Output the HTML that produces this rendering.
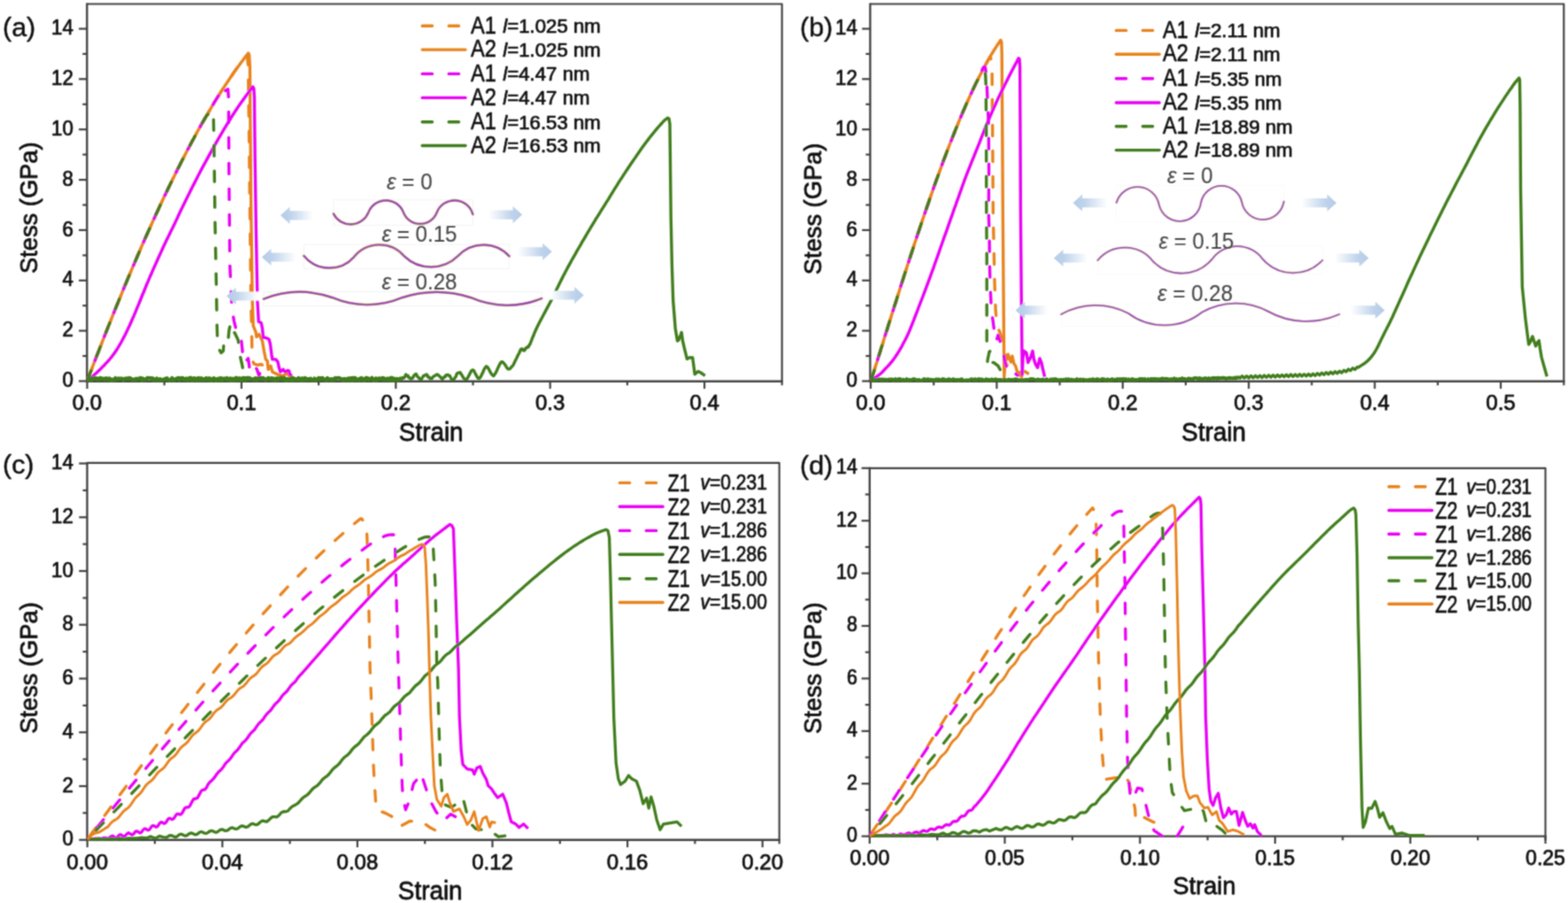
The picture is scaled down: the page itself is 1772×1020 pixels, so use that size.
<!DOCTYPE html>
<html lang="en">
<head>
<meta charset="utf-8">
<title>Stress-strain curves</title>
<style>
html,body{margin:0;padding:0;background:#fff;}
body{width:1772px;height:1020px;overflow:hidden;font-family:"Liberation Sans",Arial,Helvetica,sans-serif;}
svg{display:block;}
</style>
</head>
<body>
<svg width="1772" height="1020" viewBox="0 0 1772 1020" font-family="'Liberation Sans', Arial, Helvetica, sans-serif">
<defs>
<linearGradient id="gl" x1="0" y1="0" x2="1" y2="0"><stop offset="0" stop-color="#b3cbe8"/><stop offset="0.3" stop-color="#bfd3eb"/><stop offset="0.95" stop-color="#ffffff"/></linearGradient>
<linearGradient id="gr" x1="0" y1="0" x2="1" y2="0"><stop offset="0.05" stop-color="#ffffff"/><stop offset="0.7" stop-color="#bfd3eb"/><stop offset="1" stop-color="#b3cbe8"/></linearGradient>
<filter id="soft" x="-2%" y="-2%" width="104%" height="104%"><feConvolveMatrix order="3" kernelMatrix="0.0441 0.1218 0.0441 0.1218 0.3364 0.1218 0.0441 0.1218 0.0441" edgeMode="duplicate"/></filter>
</defs>
<rect width="1772" height="1020" fill="#ffffff"/>
<g filter="url(#soft)">
<g class="panel">
<clipPath id="clipa"><rect x="98.3" y="2.5" width="785.4000000000001" height="430.7"/></clipPath>
<path d="M98.3 4.5H883.7V435.3" fill="none" stroke="#424242" stroke-width="2.15" stroke-linejoin="round"/>
<path d="M98.3 3.5V430.7H884.7" fill="none" stroke="#424242" stroke-width="2.35"/>
<line x1="89.1" y1="430.5" x2="98.3" y2="430.5" stroke="#424242" stroke-width="2.2"/>
<text transform="translate(82.9 437.1) scale(0.93 1)" font-size="24.0" text-anchor="end" fill="#0c0c0c" stroke="#0c0c0c" stroke-width="0.75" stroke-linejoin="round">0</text>
<line x1="93.3" y1="402.1" x2="98.3" y2="402.1" stroke="#424242" stroke-width="2.2"/>
<line x1="89.1" y1="373.6" x2="98.3" y2="373.6" stroke="#424242" stroke-width="2.2"/>
<text transform="translate(82.9 380.2) scale(0.93 1)" font-size="24.0" text-anchor="end" fill="#0c0c0c" stroke="#0c0c0c" stroke-width="0.75" stroke-linejoin="round">2</text>
<line x1="93.3" y1="345.2" x2="98.3" y2="345.2" stroke="#424242" stroke-width="2.2"/>
<line x1="89.1" y1="316.8" x2="98.3" y2="316.8" stroke="#424242" stroke-width="2.2"/>
<text transform="translate(82.9 323.4) scale(0.93 1)" font-size="24.0" text-anchor="end" fill="#0c0c0c" stroke="#0c0c0c" stroke-width="0.75" stroke-linejoin="round">4</text>
<line x1="93.3" y1="288.4" x2="98.3" y2="288.4" stroke="#424242" stroke-width="2.2"/>
<line x1="89.1" y1="259.9" x2="98.3" y2="259.9" stroke="#424242" stroke-width="2.2"/>
<text transform="translate(82.9 266.5) scale(0.93 1)" font-size="24.0" text-anchor="end" fill="#0c0c0c" stroke="#0c0c0c" stroke-width="0.75" stroke-linejoin="round">6</text>
<line x1="93.3" y1="231.5" x2="98.3" y2="231.5" stroke="#424242" stroke-width="2.2"/>
<line x1="89.1" y1="203.1" x2="98.3" y2="203.1" stroke="#424242" stroke-width="2.2"/>
<text transform="translate(82.9 209.7) scale(0.93 1)" font-size="24.0" text-anchor="end" fill="#0c0c0c" stroke="#0c0c0c" stroke-width="0.75" stroke-linejoin="round">8</text>
<line x1="93.3" y1="174.6" x2="98.3" y2="174.6" stroke="#424242" stroke-width="2.2"/>
<line x1="89.1" y1="146.2" x2="98.3" y2="146.2" stroke="#424242" stroke-width="2.2"/>
<text transform="translate(82.9 152.8) scale(0.93 1)" font-size="24.0" text-anchor="end" fill="#0c0c0c" stroke="#0c0c0c" stroke-width="0.75" stroke-linejoin="round">10</text>
<line x1="93.3" y1="117.8" x2="98.3" y2="117.8" stroke="#424242" stroke-width="2.2"/>
<line x1="89.1" y1="89.3" x2="98.3" y2="89.3" stroke="#424242" stroke-width="2.2"/>
<text transform="translate(82.9 95.9) scale(0.93 1)" font-size="24.0" text-anchor="end" fill="#0c0c0c" stroke="#0c0c0c" stroke-width="0.75" stroke-linejoin="round">12</text>
<line x1="93.3" y1="60.9" x2="98.3" y2="60.9" stroke="#424242" stroke-width="2.2"/>
<line x1="89.1" y1="32.5" x2="98.3" y2="32.5" stroke="#424242" stroke-width="2.2"/>
<text transform="translate(82.9 39.1) scale(0.93 1)" font-size="24.0" text-anchor="end" fill="#0c0c0c" stroke="#0c0c0c" stroke-width="0.75" stroke-linejoin="round">14</text>
<line x1="98.5" y1="430.7" x2="98.5" y2="439.09999999999997" stroke="#424242" stroke-width="2.2"/>
<text transform="translate(98.5 463.0) scale(1.0 1)" font-size="24.0" text-anchor="middle" fill="#0c0c0c" stroke="#0c0c0c" stroke-width="0.75" stroke-linejoin="round">0.0</text>
<line x1="185.7" y1="430.7" x2="185.7" y2="435.3" stroke="#424242" stroke-width="2.2"/>
<line x1="272.9" y1="430.7" x2="272.9" y2="439.09999999999997" stroke="#424242" stroke-width="2.2"/>
<text transform="translate(272.9 463.0) scale(1.0 1)" font-size="24.0" text-anchor="middle" fill="#0c0c0c" stroke="#0c0c0c" stroke-width="0.75" stroke-linejoin="round">0.1</text>
<line x1="360.1" y1="430.7" x2="360.1" y2="435.3" stroke="#424242" stroke-width="2.2"/>
<line x1="447.3" y1="430.7" x2="447.3" y2="439.09999999999997" stroke="#424242" stroke-width="2.2"/>
<text transform="translate(447.3 463.0) scale(1.0 1)" font-size="24.0" text-anchor="middle" fill="#0c0c0c" stroke="#0c0c0c" stroke-width="0.75" stroke-linejoin="round">0.2</text>
<line x1="534.5" y1="430.7" x2="534.5" y2="435.3" stroke="#424242" stroke-width="2.2"/>
<line x1="621.7" y1="430.7" x2="621.7" y2="439.09999999999997" stroke="#424242" stroke-width="2.2"/>
<text transform="translate(621.7 463.0) scale(1.0 1)" font-size="24.0" text-anchor="middle" fill="#0c0c0c" stroke="#0c0c0c" stroke-width="0.75" stroke-linejoin="round">0.3</text>
<line x1="708.9" y1="430.7" x2="708.9" y2="435.3" stroke="#424242" stroke-width="2.2"/>
<line x1="796.1" y1="430.7" x2="796.1" y2="439.09999999999997" stroke="#424242" stroke-width="2.2"/>
<text transform="translate(796.1 463.0) scale(1.0 1)" font-size="24.0" text-anchor="middle" fill="#0c0c0c" stroke="#0c0c0c" stroke-width="0.75" stroke-linejoin="round">0.4</text>
<text transform="translate(487.2 497.5) scale(0.96 1)" font-size="29.0" text-anchor="middle" fill="#0c0c0c" stroke="#0c0c0c" stroke-width="0.75" stroke-linejoin="round">Strain</text>
<text transform="translate(42.0 234.7) rotate(-90) scale(1.01 1)" font-size="27.0" text-anchor="middle" fill="#0c0c0c" stroke="#0c0c0c" stroke-width="0.75" stroke-linejoin="round">Stess (GPa)</text>
<text transform="translate(3.0 41.0) scale(1.05 1)" font-size="29.0" text-anchor="start" fill="#0c0c0c" stroke="#0c0c0c" stroke-width="0.4" stroke-linejoin="round">(a)</text>
<g clip-path="url(#clipa)">
<path d="M98.6 430.0L100.6 424.6L102.7 419.3L104.7 414.0L106.8 408.7L108.8 403.4L110.9 398.1L112.9 392.9L115.0 387.6L117.0 382.4L119.0 377.3L121.1 372.1L123.1 367.0L125.2 361.9L127.2 356.8L129.3 351.7L131.3 346.7L133.4 341.6L135.4 336.6L137.5 331.7L139.5 326.7L141.5 321.8L143.6 316.9L145.6 312.0L147.7 307.2L149.7 302.3L151.8 297.6L153.8 292.8L155.9 288.0L157.9 283.3L159.9 278.6L162.0 274.0L164.0 269.3L166.1 264.7L168.1 260.2L170.2 255.6L172.2 251.1L174.3 246.6L176.3 242.1L178.4 237.7L180.4 233.3L182.4 228.9L184.5 224.6L186.5 220.3L188.6 216.0L190.6 211.7L192.7 207.5L194.7 203.3L196.8 199.2L198.8 195.1L200.8 191.0L202.9 186.9L204.9 182.9L207.0 178.9L209.0 175.0L211.1 171.0L213.1 167.2L215.2 163.3L217.2 159.5L219.3 155.7L221.3 152.0L223.3 148.3L225.4 144.6L227.4 140.9L229.5 137.3L231.5 133.8L233.6 130.3L235.6 126.8L237.7 123.3L239.7 119.9L241.7 116.5L243.8 113.2L245.8 109.9L247.9 106.6L249.9 103.4L252.0 100.3L254.0 97.1L256.1 94.0L258.1 91.0L260.2 87.9L262.2 85.0L264.2 82.0L266.3 79.1L268.3 76.3L270.4 73.5L272.4 70.7L274.5 68.0L276.5 65.3L278.6 62.7L279.5 62.5L280.5 75.0L281.5 150.0L282.6 250.0L283.6 340.0L284.3 366.0L284.8 395.0L285.6 408.0L287.0 411.0L291.0 412.3L295.0 411.5L298.0 413.0L300.0 418.0L302.0 424.0" fill="none" stroke="#e8821c" stroke-width="3.4" stroke-linejoin="round" stroke-dasharray="12 17" stroke-linecap="round" stroke-dashoffset="-4"/>
<path d="M98.6 430.0L100.6 424.6L102.7 419.3L104.7 414.0L106.8 408.7L108.8 403.4L110.9 398.1L112.9 392.9L115.0 387.6L117.0 382.4L119.0 377.3L121.1 372.1L123.1 367.0L125.2 361.9L127.2 356.8L129.3 351.7L131.3 346.7L133.4 341.6L135.4 336.6L137.5 331.7L139.5 326.7L141.5 321.8L143.6 316.9L145.6 312.0L147.7 307.2L149.7 302.3L151.8 297.6L153.8 292.8L155.9 288.0L157.9 283.3L159.9 278.6L162.0 274.0L164.0 269.3L166.1 264.7L168.1 260.2L170.2 255.6L172.2 251.1L174.3 246.6L176.3 242.1L178.4 237.7L180.4 233.3L182.4 228.9L184.5 224.6L186.5 220.3L188.6 216.0L190.6 211.7L192.7 207.5L194.7 203.3L196.8 199.2L198.8 195.1L200.8 191.0L202.9 186.9L204.9 182.9L207.0 178.9L209.0 175.0L211.1 171.0L213.1 167.2L215.2 163.3L217.2 159.5L219.3 155.7L221.3 152.0L223.3 148.3L225.4 144.6L227.4 140.9L229.5 137.3L231.5 133.8L233.6 130.3L235.6 126.8L237.7 123.3L239.7 119.9L241.7 116.5L243.8 113.2L245.8 109.9L247.9 106.6L249.9 103.4L252.0 100.3L254.0 97.1L256.1 94.0L258.1 91.0L260.2 87.9L262.2 85.0L264.2 82.0L266.3 79.1L268.3 76.3L270.4 73.5L272.4 70.7L274.5 68.0L276.5 65.3L278.6 62.7L280.6 60.1L281.6 62.0L282.4 75.0L283.0 150.0L283.8 240.0L285.2 340.0L286.2 368.2L289.0 374.8L289.9 380.5L292.8 377.6L296.5 385.2L298.4 396.5L300.3 405.9L302.2 407.8L303.1 417.2L305.9 413.4L307.8 420.0L311.6 421.9L315.0 423.5L320.0 424.7L324.0 421.5L327.0 424.5L330.4 423.3" fill="none" stroke="#e8821c" stroke-width="3.4" stroke-linejoin="round" stroke-linecap="butt"/>
<path d="M98.6 430.0L100.6 424.6L102.7 419.3L104.7 414.0L106.8 408.7L108.8 403.4L110.9 398.1L112.9 392.9L115.0 387.6L117.0 382.4L119.0 377.3L121.1 372.1L123.1 367.0L125.2 361.9L127.2 356.8L129.3 351.7L131.3 346.7L133.4 341.6L135.4 336.6L137.5 331.7L139.5 326.7L141.5 321.8L143.6 316.9L145.6 312.0L147.7 307.2L149.7 302.3L151.8 297.6L153.8 292.8L155.9 288.0L157.9 283.3L159.9 278.6L162.0 274.0L164.0 269.3L166.1 264.7L168.1 260.2L170.2 255.6L172.2 251.1L174.3 246.6L176.3 242.1L178.4 237.7L180.4 233.3L182.4 228.9L184.5 224.6L186.5 220.3L188.6 216.0L190.6 211.7L192.7 207.5L194.7 203.3L196.8 199.2L198.8 195.1L200.8 191.0L202.9 186.9L204.9 182.9L207.0 178.9L209.0 175.0L211.1 171.0L213.1 167.2L215.2 163.3L217.2 159.5L219.3 155.7L221.3 152.0L223.3 148.3L225.4 144.6L227.4 140.9L229.5 137.3L231.5 133.8L233.6 130.3L235.6 126.8L237.7 123.3L239.7 119.9L241.7 116.5L243.8 113.2L245.8 109.9L247.9 106.6L249.9 103.4L250.4 107.9L251.1 107.0L251.8 105.9L252.5 104.8L253.3 103.8L254.0 103.0L254.7 102.4L255.4 101.9L256.1 101.6L256.7 101.2L257.2 101.0L257.6 100.8L258.3 110.0L258.8 200.0L259.8 300.0L262.2 349.4L264.5 362.6L267.0 373.0L272.5 382.4L273.9 395.5L275.2 409.0L277.0 409.3L280.5 404.9L281.5 412.0L282.4 420.0L284.5 416.5L286.2 414.4L289.0 414.4L291.0 419.0L292.8 424.7L294.5 418.0L296.0 414.5" fill="none" stroke="#e905f5" stroke-width="3.4" stroke-linejoin="round" stroke-dasharray="12 17" stroke-linecap="round" stroke-dashoffset="5"/>
<path d="M98.6 430.0L99.8 429.0L101.0 428.0L102.3 427.0L103.6 425.9L105.0 424.7L106.4 423.5L107.8 422.3L109.2 421.1L110.5 419.8L111.8 418.6L113.1 417.3L114.3 416.1L115.5 414.8L116.8 413.6L118.0 412.3L119.2 410.9L120.5 409.6L121.7 408.3L123.0 406.9L124.2 405.5L125.4 404.0L126.7 402.4L127.9 400.8L129.2 399.1L130.4 397.3L131.6 395.5L132.9 393.5L134.1 391.5L135.3 389.4L136.6 387.3L137.8 385.0L139.0 382.7L140.2 380.4L141.5 378.0L142.7 375.5L143.9 373.0L145.1 370.4L146.4 367.7L147.6 365.0L148.8 362.3L150.0 359.5L151.3 356.7L152.5 353.8L153.7 350.9L154.9 347.9L156.2 344.9L157.4 342.0L158.6 339.0L159.8 336.0L161.0 333.0L162.3 330.0L163.5 327.0L164.7 324.0L165.9 321.0L167.2 318.1L168.4 315.2L169.6 312.3L170.9 309.5L172.1 306.7L173.3 303.9L174.5 301.2L175.8 298.4L177.0 295.7L178.2 293.0L179.4 290.3L180.7 287.6L181.9 284.9L183.1 282.2L184.3 279.5L185.6 276.8L186.8 274.2L188.1 271.6L189.3 269.0L190.6 266.4L191.8 263.9L193.0 261.5L194.2 259.1L195.3 256.9L196.3 254.8L197.3 252.9L198.1 251.1L198.9 249.4L199.6 247.9L200.4 246.3L201.1 244.6L202.0 242.7L203.0 240.6L204.1 238.2L205.4 235.5L206.9 232.4L208.5 229.2L210.2 225.7L211.9 222.2L213.7 218.7L215.3 215.4L216.9 212.3L218.4 209.3L219.8 206.6L221.1 204.0L222.4 201.5L223.6 199.0L225.0 196.5L226.4 193.8L227.9 190.9L229.5 187.9L231.3 184.7L233.1 181.3L235.0 177.9L236.9 174.4L238.9 170.8L240.8 167.4L242.7 164.0L244.6 160.7L246.4 157.5L248.2 154.4L250.0 151.4L251.7 148.5L253.3 145.7L254.9 143.1L256.4 140.6L257.8 138.3L259.2 136.1L260.5 134.0L261.7 132.0L263.0 130.0L264.2 128.2L265.4 126.3L266.6 124.5L267.8 122.7L269.0 120.9L270.2 119.1L271.4 117.4L272.7 115.6L273.9 113.9L275.1 112.2L276.4 110.4L277.6 108.7L278.9 107.0L280.1 105.4L281.3 103.8L282.4 102.2L283.5 100.8L284.6 99.4L285.6 98.0L286.8 99.5L287.5 110.0L288.2 180.0L289.4 260.0L290.9 340.0L292.3 363.5L295.1 364.5L296.5 371.0L297.5 381.4L300.3 381.4L304.0 383.3L305.5 389.0L306.9 400.2L307.8 405.9L311.6 405.9L313.9 408.7L315.4 415.3L316.8 420.0L318.5 418.5L320.0 417.2L321.5 419.5L322.9 420.0L324.7 418.5L326.6 419.0L327.6 422.8L329.5 424.5" fill="none" stroke="#e905f5" stroke-width="3.4" stroke-linejoin="round" stroke-linecap="butt"/>
<path d="M98.6 430.0L100.6 424.6L102.7 419.3L104.7 414.0L106.8 408.7L108.8 403.4L110.9 398.1L112.9 392.9L115.0 387.6L117.0 382.4L119.0 377.3L121.1 372.1L123.1 367.0L125.2 361.9L127.2 356.8L129.3 351.7L131.3 346.7L133.4 341.6L135.4 336.6L137.5 331.7L139.5 326.7L141.5 321.8L143.6 316.9L145.6 312.0L147.7 307.2L149.7 302.3L151.8 297.6L153.8 292.8L155.9 288.0L157.9 283.3L159.9 278.6L162.0 274.0L164.0 269.3L166.1 264.7L168.1 260.2L170.2 255.6L172.2 251.1L174.3 246.6L176.3 242.1L178.4 237.7L180.4 233.3L182.4 228.9L184.5 224.6L186.5 220.3L188.6 216.0L190.6 211.7L192.7 207.5L194.7 203.3L196.8 199.2L198.8 195.1L200.8 191.0L202.9 186.9L204.9 182.9L207.0 178.9L209.0 175.0L211.1 171.0L213.1 167.2L215.2 163.3L217.2 159.5L219.3 155.7L221.3 152.0L223.3 148.3L225.4 144.6L227.4 140.9L229.5 137.3L231.5 133.8L233.6 130.3L234.4 129.9L235.0 129.1L235.7 128.1L236.4 127.2L237.0 126.5L237.6 125.9L238.2 125.4L238.7 124.9L239.2 124.8L239.7 125.0L240.1 125.8L240.5 127.1L240.8 128.7L241.0 130.1L241.2 131.0L241.8 160.0L243.0 250.0L244.6 330.0L245.2 367.0L245.7 382.4L247.6 394.6L250.0 398.5L252.3 396.5L253.2 384.2L255.1 380.5L257.9 383.3L258.9 372.9L260.8 364.5L262.6 372.0L265.5 376.5L269.2 384.2L271.1 401.2L273.5 411.5L274.9 419.0L279.6 423.8L283.0 427.0" fill="none" stroke="#3f7d1a" stroke-width="3.4" stroke-linejoin="round" stroke-dasharray="12 17" stroke-linecap="round"/>
<path d="M99.0 428.4L99.9 428.8L100.8 427.6L101.7 428.2L102.6 429.4L103.5 429.4L104.4 427.1L105.3 427.3L106.2 426.9L107.1 428.0L108.0 426.8L108.9 428.1L109.8 428.6L110.7 427.5L111.6 428.7L112.5 428.5L113.4 426.8L114.3 428.4L115.2 427.5L116.1 427.9L117.0 427.6L117.9 428.8L118.8 428.0L119.7 427.2L120.6 428.3L121.5 429.0L122.4 427.6L123.3 427.4L124.2 427.9L125.1 429.5L126.0 429.6L126.9 428.7L127.8 429.4L128.7 429.2L129.6 427.8L130.5 427.0L131.4 428.7L132.3 428.4L133.2 427.8L134.1 427.4L135.0 427.9L135.9 428.1L136.8 427.5L137.7 427.6L138.6 428.1L139.5 429.3L140.4 428.5L141.3 427.6L142.2 427.5L143.1 428.1L144.0 427.3L144.9 427.3L145.8 428.2L146.7 427.0L147.6 428.2L148.5 427.8L149.4 428.8L150.3 428.9L151.2 428.8L152.1 428.8L153.0 427.8L153.9 428.7L154.8 427.7L155.7 428.4L156.6 427.7L157.5 428.0L158.4 426.9L159.3 427.4L160.2 429.6L161.1 427.4L162.0 428.8L162.9 428.7L163.8 428.9L164.7 428.1L165.6 428.5L166.5 426.9L167.4 426.9L168.3 427.3L169.2 427.2L170.1 427.0L171.0 427.1L171.9 428.4L172.8 427.3L173.7 429.6L174.6 428.7L175.5 428.3L176.4 428.8L177.3 427.5L178.2 429.5L179.1 429.2L180.0 428.9L180.9 428.1L181.8 429.2L182.7 428.9L183.6 428.7L184.5 429.4L185.4 428.6L186.3 427.8L187.2 428.4L188.1 427.3L189.0 427.3L189.9 428.9L190.8 429.1L191.7 429.6L192.6 429.3L193.5 428.3L194.4 427.0L195.3 428.2L196.2 429.5L197.1 429.1L198.0 428.2L198.9 428.1L199.8 427.4L200.7 427.2L201.6 426.9L202.5 429.4L203.4 428.6L204.3 427.1L205.2 427.9L206.1 426.8L207.0 427.3L207.9 428.9L208.8 428.7L209.7 428.1L210.6 427.5L211.5 428.7L212.4 429.6L213.3 428.0L214.2 426.9L215.1 426.9L216.0 426.9L216.9 429.6L217.8 428.3L218.7 429.2L219.6 427.2L220.5 427.5L221.4 428.8L222.3 429.4L223.2 427.7L224.1 426.9L225.0 429.3L225.9 427.6L226.8 428.9L227.7 427.2L228.6 428.8L229.5 429.2L230.4 428.9L231.3 427.8L232.2 428.9L233.1 427.1L234.0 427.6L234.9 428.0L235.8 429.3L236.7 427.2L237.6 429.3L238.5 429.1L239.4 429.6L240.3 427.8L241.2 427.3L242.1 427.4L243.0 429.2L243.9 429.6L244.8 428.8L245.7 428.1L246.6 427.6L247.5 429.2L248.4 429.3L249.3 427.0L250.2 427.3L251.1 429.2L252.0 429.2L252.9 427.6L253.8 427.5L254.7 428.0L255.6 428.3L256.5 427.0L257.4 429.2L258.3 428.3L259.2 429.0L260.1 427.4L261.0 429.6L261.9 429.0L262.8 427.7L263.7 429.5L264.6 428.8L265.5 429.2L266.4 426.8L267.3 426.9L268.2 428.9L269.1 427.6L270.0 428.3L270.9 427.2L271.8 429.6L272.7 428.2L273.6 429.2L274.5 426.9L275.4 428.1L276.3 426.9L277.2 429.4L278.1 428.0L279.0 426.9L279.9 426.9L280.8 428.3L281.7 426.9L282.6 427.3L283.5 428.0L284.4 428.2L285.3 428.4L286.2 428.6L287.1 427.8L288.0 428.6L288.9 427.2L289.8 427.5L290.7 429.1L291.6 427.2L292.5 427.4L293.4 427.4L294.3 428.1L295.2 426.7L296.1 426.8L297.0 428.1L297.9 427.2L298.8 428.7L299.7 429.1L300.6 428.4L301.5 428.8L302.4 427.9L303.3 426.8L304.2 428.0L305.1 427.8L306.0 428.5L306.9 427.1L307.8 427.4L308.7 429.1L309.6 427.5L310.5 427.9L311.4 429.5L312.3 427.5L313.2 427.1L314.1 428.8L315.0 428.4L315.9 428.5L316.8 426.8L317.7 428.0L318.6 426.7L319.5 427.4L320.4 428.8L321.3 426.9L322.2 427.6L323.1 429.7L324.0 429.6L324.9 428.1L325.8 428.9L326.7 428.6L327.6 428.1L328.5 429.3L329.4 427.2L330.3 429.2L331.2 426.8L332.1 429.3L333.0 428.7L333.9 428.0L334.8 428.7L335.7 428.1L336.6 429.0L337.5 427.0L338.4 428.2L339.3 429.3L340.2 429.5L341.1 427.4L342.0 427.5L342.9 429.4L343.8 427.7L344.7 426.9L345.6 428.8L346.5 427.9L347.4 428.9L348.3 428.1L349.2 428.2L350.1 428.0L351.0 427.6L351.9 429.4L352.8 428.7L353.7 429.1L354.6 429.4L355.5 427.5L356.4 429.5L357.3 429.3L358.2 428.2L359.1 428.4L360.0 427.0L360.9 429.0L361.8 427.2L362.7 428.3L363.6 427.1L364.5 426.9L365.4 428.5L366.3 428.2L367.2 428.7L368.1 429.1L369.0 429.6L369.9 427.0L370.8 428.6L371.7 428.4L372.6 428.7L373.5 428.3L374.4 428.4L375.3 429.3L376.2 428.1L377.1 428.3L378.0 428.8L378.9 427.0L379.8 428.0L380.7 427.0L381.6 427.1L382.5 426.7L383.4 427.3L384.3 427.3L385.2 428.2L386.1 428.4L387.0 429.2L387.9 428.2L388.8 429.4L389.7 427.9L390.6 428.9L391.5 428.4L392.4 428.6L393.3 427.5L394.2 429.5L395.1 429.0L396.0 427.1L396.9 428.3L397.8 429.7L398.7 426.8L399.6 427.6L400.5 428.9L401.4 426.8L402.3 428.9L403.2 428.4L404.1 428.9L405.0 428.4L405.9 429.5L406.8 427.7L407.7 428.4L408.6 426.9L409.5 428.4L410.4 428.0L411.3 429.6L412.2 429.5L413.1 427.1L414.0 426.8L414.9 427.1L415.8 427.3L416.7 428.9L417.6 428.3L418.5 428.3L419.4 428.1L420.3 426.7L421.2 427.9L422.1 429.7L423.0 429.2L423.9 428.4L424.8 427.3L425.7 429.5L426.6 428.0L427.5 428.6L428.4 427.3L429.3 427.7L430.2 427.7L431.1 427.9L432.0 426.8L432.9 428.7L433.8 427.2L434.7 428.5L435.6 428.6L436.5 428.8L437.4 427.6L438.3 427.6L439.2 429.0L440.1 427.9L441.0 427.2L441.9 429.4L442.8 426.7L443.7 429.4L444.6 427.6L445.5 427.8L446.4 429.6L447.3 428.0L448.2 428.8L449.1 427.9L450.0 429.4L450.9 428.9L451.8 428.1" fill="none" stroke="#3f7d1a" stroke-width="4.1" stroke-linejoin="round" stroke-linecap="butt"/>
<path d="M98.8 429.5L99.9 428.8L100.8 427.6L101.7 428.2L102.6 429.4L103.5 429.4L104.4 427.1L105.3 427.3L106.2 426.9L107.1 428.0L108.0 426.8L108.9 428.1L109.8 428.6L110.7 427.5L111.6 428.7L112.5 428.5L113.4 426.8L114.3 428.4L115.2 427.5L116.1 427.9L117.0 427.6L117.9 428.8L118.8 428.0L119.7 427.2L120.6 428.3L121.5 429.0L122.4 427.6L123.3 427.4L124.2 427.9L125.1 429.5L126.0 429.6L126.9 428.7L127.8 429.4L128.7 429.2L129.6 427.8L130.5 427.0L131.4 428.7L132.3 428.4L133.2 427.8L134.1 427.4L135.0 427.9L135.9 428.1L136.8 427.5L137.7 427.6L138.6 428.1L139.5 429.3L140.4 428.5L141.3 427.6L142.2 427.5L143.1 428.1L144.0 427.3L144.9 427.3L145.8 428.2L146.7 427.0L147.6 428.2L148.5 427.8L149.4 428.8L150.3 428.9L151.2 428.8L152.1 428.8L153.0 427.8L153.9 428.7L154.8 427.7L155.7 428.4L156.6 427.7L157.5 428.0L158.4 426.9L159.3 427.4L160.2 429.6L161.1 427.4L162.0 428.8L162.9 428.7L163.8 428.9L164.7 428.1L165.6 428.5L166.5 426.9L167.4 426.9L168.3 427.3L169.2 427.2L170.1 427.0L171.0 427.1L171.9 428.4L172.8 427.3L173.7 429.6L174.6 428.7L175.5 428.3L176.4 428.8L177.3 427.5L178.2 429.5L179.1 429.2L180.0 428.9L180.9 428.1L181.8 429.2L182.7 428.9L183.6 428.7L184.5 429.4L185.4 428.6L186.3 427.8L187.2 428.4L188.1 427.3L189.0 427.3L189.9 428.9L190.8 429.1L191.7 429.6L192.6 429.3L193.5 428.3L194.4 427.0L195.3 428.2L196.2 429.5L197.1 429.1L198.0 428.2L198.9 428.1L199.8 427.4L200.7 427.2L201.6 426.9L202.5 429.4L203.4 428.6L204.3 427.1L205.2 427.9L206.1 426.8L207.0 427.3L207.9 428.9L208.8 428.7L209.7 428.1L210.6 427.5L211.5 428.7L212.4 429.6L213.3 428.0L214.2 426.9L215.1 426.9L216.0 426.9L216.9 429.6L217.8 428.3L218.7 429.2L219.6 427.2L220.5 427.5L221.4 428.8L222.3 429.4L223.2 427.7L224.1 426.9L225.0 429.3L225.9 427.6L226.8 428.9L227.7 427.2L228.6 428.8L229.5 429.2L230.4 428.9L231.3 427.8L232.2 428.9L233.1 427.1L234.0 427.6L234.9 428.0L235.8 429.3L236.7 427.2L237.6 429.3L238.5 429.1L239.4 429.6L240.3 427.8L241.2 427.3L242.1 427.4L243.0 429.2L243.9 429.6L244.8 428.8L245.7 428.1L246.6 427.6L247.5 429.2L248.4 429.3L249.3 427.0L250.2 427.3L251.1 429.2L252.0 429.2L252.9 427.6L253.8 427.5L254.7 428.0L255.6 428.3L256.5 427.0L257.4 429.2L258.3 428.3L259.2 429.0L260.1 427.4L261.0 429.6L261.9 429.0L262.8 427.7L263.7 429.5L264.6 428.8L265.5 429.2L266.4 426.8L267.3 426.9L268.2 428.9L269.1 427.6L270.0 428.3L270.9 427.2L271.8 429.6L272.7 428.2L273.6 429.2L274.5 426.9L275.4 428.1L276.3 426.9L277.2 429.4L278.1 428.0L279.0 426.9L279.9 426.9L280.8 428.3L281.7 426.9L282.6 427.3L283.5 428.0L284.4 428.2L285.3 428.4L286.2 428.6L287.1 427.8L288.0 428.6L288.9 427.2L289.8 427.5L290.7 429.1L291.6 427.2L292.5 427.4L293.4 427.4L294.3 428.1L295.2 426.7L296.1 426.8L297.0 428.1L297.9 427.2L298.8 428.7L299.7 429.1L300.6 428.4L301.5 428.8L302.4 427.9L303.3 426.8L304.2 428.0L305.1 427.8L306.0 428.5L306.9 427.1L307.8 427.4L308.7 429.1L309.6 427.5L310.5 427.9L311.4 429.5L312.3 427.5L313.2 427.1L314.1 428.8L315.0 428.4L315.9 428.5L316.8 426.8L317.7 428.0L318.6 426.7L319.5 427.4L320.4 428.8L321.3 426.9L322.2 427.6L323.1 429.7L324.0 429.6L324.9 428.1L325.8 428.9L326.7 428.6L327.6 428.1L328.5 429.3L329.4 427.2L330.3 429.2L331.2 426.8L332.1 429.3L333.0 428.7L333.9 428.0L334.8 428.7L335.7 428.1L336.6 429.0L337.5 427.0L338.4 428.2L339.3 429.3L340.2 429.5L341.1 427.4L342.0 427.5L342.9 429.4L343.8 427.7L344.7 426.9L345.6 428.8L346.5 427.9L347.4 428.9L348.3 428.1L349.2 428.2L350.1 428.0L351.0 427.6L351.9 429.4L352.8 428.7L353.7 429.1L354.6 429.4L355.5 427.5L356.4 429.5L357.3 429.3L358.2 428.2L359.1 428.4L360.0 427.0L360.9 429.0L361.8 427.2L362.7 428.3L363.6 427.1L364.5 426.9L365.4 428.5L366.3 428.2L367.2 428.7L368.1 429.1L369.0 429.6L369.9 427.0L370.8 428.6L371.7 428.4L372.6 428.7L373.5 428.3L374.4 428.4L375.3 429.3L376.2 428.1L377.1 428.3L378.0 428.8L378.9 427.0L379.8 428.0L380.7 427.0L381.6 427.1L382.5 426.7L383.4 427.3L384.3 427.3L385.2 428.2L386.1 428.4L387.0 429.2L387.9 428.2L388.8 429.4L389.7 427.9L390.6 428.9L391.5 428.4L392.4 428.6L393.3 427.5L394.2 429.5L395.1 429.0L396.0 427.1L396.9 428.3L397.8 429.7L398.7 426.8L399.6 427.6L400.5 428.9L401.4 426.8L402.3 428.9L403.2 428.4L404.1 428.9L405.0 428.4L405.9 429.5L406.8 427.7L407.7 428.4L408.6 426.9L409.5 428.4L410.4 428.0L411.3 429.6L412.2 429.5L413.1 427.1L414.0 426.8L414.9 427.1L415.8 427.3L416.7 428.9L417.6 428.3L418.5 428.3L419.4 428.1L420.3 426.7L421.2 427.9L422.1 429.7L423.0 429.2L423.9 428.4L424.8 427.3L425.7 429.5L426.6 428.0L427.5 428.6L428.4 427.3L429.3 427.7L430.2 427.7L431.1 427.9L432.0 426.8L432.9 428.7L433.8 427.2L434.7 428.5L435.6 428.6L436.5 428.8L437.4 427.6L438.3 427.6L439.2 429.0L440.1 427.9L441.0 427.2L441.9 429.4L442.8 426.7L443.7 429.4L444.6 427.6L445.5 427.8L446.4 429.6L447.3 428.0L448.2 428.8L449.1 427.9L450.0 429.4L450.9 428.9L451.8 428.1L452.0 427.4L452.3 427.0L452.7 427.9L453.2 428.4L453.8 427.8L454.4 427.8L455.0 426.5L455.7 426.9L456.4 427.0L457.2 425.9L457.9 424.8L458.7 423.0L459.5 424.4L460.2 424.7L461.0 424.2L461.7 426.3L462.4 426.2L463.2 427.2L464.0 427.9L464.9 427.2L465.8 427.5L466.8 426.3L467.8 424.2L468.8 423.2L469.7 422.4L470.6 422.8L471.5 425.0L472.4 426.1L473.2 426.3L474.1 428.1L475.0 428.3L475.9 428.8L476.8 427.4L477.8 425.8L478.7 424.4L479.7 424.1L480.7 423.8L481.7 422.9L482.8 423.7L483.8 426.1L484.9 426.0L485.9 427.6L487.0 427.4L488.1 427.5L489.1 425.9L490.2 425.0L491.2 424.6L492.3 423.8L493.4 423.1L494.5 423.0L495.6 424.1L496.7 424.9L497.8 425.9L498.9 427.4L500.0 428.5L501.0 426.8L502.0 425.7L503.0 425.9L504.0 423.7L505.0 423.6L506.0 423.3L507.0 424.2L508.0 424.2L508.9 425.6L509.9 427.9L511.0 428.9L512.0 428.9L513.1 428.4L514.2 426.5L515.3 425.1L516.4 421.9L517.6 421.2L518.8 421.1L520.0 420.7L521.3 422.7L522.5 424.6L523.8 426.9L525.1 428.1L526.4 428.5L527.7 428.3L528.9 426.0L530.2 423.6L531.5 421.1L532.7 418.8L534.0 417.9L535.3 418.3L536.5 420.7L537.8 423.1L539.0 425.4L540.3 427.2L541.6 427.4L542.9 426.3L544.3 423.4L545.6 420.9L547.0 417.4L548.4 415.1L549.7 413.8L551.0 414.7L552.3 416.8L553.6 419.4L554.9 421.7L556.3 423.5L557.7 424.6L559.2 422.7L560.8 420.1L562.4 416.3L564.0 413.0L565.6 409.9L567.0 408.6L568.3 409.1L569.5 410.5L570.7 411.9L571.8 413.6L572.8 415.6L573.8 416.5L574.7 417.0L575.6 416.6L576.4 416.6L577.2 415.5L578.0 414.5L578.9 413.6L579.9 412.6L580.9 410.5L582.0 408.1L583.1 405.9L584.1 404.0L585.0 401.9L585.8 400.4L586.5 399.3L587.2 397.8L587.8 396.5L588.4 394.7L589.0 394.5L589.6 394.0L590.1 394.7L590.6 394.5L591.1 395.6L591.5 395.3L592.0 395.6L592.4 396.0L592.9 395.2L593.3 395.1L593.7 394.2L594.1 393.3L594.5 393.4L594.9 392.9L595.3 392.6L595.8 392.0L596.2 391.8L596.6 392.3L597.0 392.0L597.4 391.5L597.8 390.3L598.3 389.3L598.6 389.2L599.0 388.8L599.2 388.3L599.7 386.8L600.4 385.1L601.2 383.0L602.1 380.7L603.2 378.2L604.3 375.4L605.6 372.5L607.0 369.5L608.6 366.3L610.4 362.8L612.3 359.2L614.4 355.3L616.5 351.4L618.6 347.4L620.7 343.5L622.7 339.6L624.7 335.7L626.6 331.8L628.6 327.8L630.6 323.8L632.5 319.8L634.5 315.9L636.4 312.0L638.4 308.2L640.4 304.5L642.3 300.9L644.3 297.3L646.2 293.8L648.2 290.3L650.2 286.9L652.1 283.4L654.1 280.0L656.1 276.6L658.0 273.2L660.0 269.8L662.0 266.5L663.9 263.1L665.9 259.8L667.8 256.6L669.8 253.3L671.8 250.1L673.7 246.9L675.7 243.8L677.7 240.7L679.6 237.5L681.6 234.4L683.5 231.3L685.5 228.2L687.5 225.1L689.4 221.9L691.4 218.7L693.3 215.5L695.2 212.4L697.2 209.3L699.1 206.2L701.1 203.1L703.1 200.1L705.0 197.1L707.0 194.1L708.9 191.2L710.9 188.2L712.9 185.3L714.8 182.5L716.8 179.6L718.8 176.8L720.7 173.9L722.7 171.1L724.6 168.3L726.6 165.5L728.6 162.8L730.5 160.2L732.5 157.6L734.5 155.0L736.6 152.4L738.8 149.7L740.9 147.2L743.0 144.7L744.9 142.5L746.7 140.5L748.2 138.8L749.5 137.4L750.6 136.3L751.5 135.5L752.3 134.8L753.0 134.3L753.6 133.9L754.1 133.5L754.5 133.2L756.0 134.0L757.0 140.0L758.2 245.5L759.4 300.0L760.7 339.6L763.2 371.0L765.5 385.0L767.0 384.0L770.2 375.6L771.5 385.0L773.3 392.9L776.4 405.4L779.0 404.0L782.7 403.9L785.2 422.7L789.0 419.5L792.0 421.0L796.8 424.3" fill="none" stroke="#3f7d1a" stroke-width="3.4" stroke-linejoin="round" stroke-linecap="butt"/>
</g>
<rect x="376.9" y="225.8" width="157.5" height="28.6" fill="none" stroke="#f3f3f3" stroke-width="1"/>
<path d="M376.9 241.5A21.7 21.7 0 0 0 416.4 239.8A21.2 21.2 0 0 1 455.9 239.8A20.2 20.2 0 0 0 493.7 239.8A21.5 21.5 0 0 1 534.4 242.1" fill="none" stroke="#d8d070" stroke-width="3.3000000000000003" stroke-linecap="round" opacity="0.8"/>
<path d="M376.9 241.5A21.7 21.7 0 0 0 416.4 239.8A21.2 21.2 0 0 1 455.9 239.8A20.2 20.2 0 0 0 493.7 239.8A21.5 21.5 0 0 1 534.4 242.1" fill="none" stroke="#9a3fb4" stroke-width="2.2" stroke-linecap="round"/>
<rect x="343.4" y="276.1" width="232.2" height="27.5" fill="none" stroke="#f3f3f3" stroke-width="1"/>
<path d="M343.4 289.0A37.2 37.2 0 0 0 399.9 290.4A36.9 36.9 0 0 1 456.8 289.4A43.6 43.6 0 0 0 517.7 289.0A39.5 39.5 0 0 1 575.6 289.4" fill="none" stroke="#d8d070" stroke-width="3.3000000000000003" stroke-linecap="round" opacity="0.8"/>
<path d="M343.4 289.0A37.2 37.2 0 0 0 399.9 290.4A36.9 36.9 0 0 1 456.8 289.4A43.6 43.6 0 0 0 517.7 289.0A39.5 39.5 0 0 1 575.6 289.4" fill="none" stroke="#9a3fb4" stroke-width="2.2" stroke-linecap="round"/>
<rect x="297.9" y="329.5" width="314.3" height="16.3" fill="none" stroke="#f3f3f3" stroke-width="1"/>
<path d="M297.9 337.7A111.9 111.9 0 0 1 375.5 336.1A100.3 100.3 0 0 0 454.7 336.1A124.9 124.9 0 0 1 531.9 336.1A102.5 102.5 0 0 0 612.2 337.1" fill="none" stroke="#d8d070" stroke-width="3.3000000000000003" stroke-linecap="round" opacity="0.8"/>
<path d="M297.9 337.7A111.9 111.9 0 0 1 375.5 336.1A100.3 100.3 0 0 0 454.7 336.1A124.9 124.9 0 0 1 531.9 336.1A102.5 102.5 0 0 0 612.2 337.1" fill="none" stroke="#9a3fb4" stroke-width="2.2" stroke-linecap="round"/>
<path d="M355.5 238.20000000000002H327.5V233.70000000000002L317 243.3L327.5 252.9V248.4H355.5Z" fill="url(#gl)"/>
<path d="M550.4 237.5H579.6V233.0L590.1 242.6L579.6 252.2V247.7H550.4Z" fill="url(#gr)"/>
<path d="M336.8 285.4H306.4V280.9L295.9 290.5L306.4 300.1V295.6H336.8Z" fill="url(#gl)"/>
<path d="M582.7 279.2H613.2V274.7L623.7 284.3L613.2 293.90000000000003V289.40000000000003H582.7Z" fill="url(#gr)"/>
<path d="M293.4 329.4H266.6V324.9L256.1 334.5L266.6 344.1V339.6H293.4Z" fill="url(#gl)"/>
<path d="M620 328.4H649.2V323.9L659.7 333.5L649.2 343.1V338.6H620Z" fill="url(#gr)"/>
<text transform="translate(462.8 213.5) scale(0.91 1)" font-size="26.5" text-anchor="middle" fill="#4a4a4a" stroke="#4a4a4a" stroke-width="0.2" stroke-linejoin="round"><tspan font-style='italic'>ε</tspan> = 0</text>
<text transform="translate(474.0 273.1) scale(0.91 1)" font-size="26.5" text-anchor="middle" fill="#4a4a4a" stroke="#4a4a4a" stroke-width="0.2" stroke-linejoin="round"><tspan font-style='italic'>ε</tspan> = 0.15</text>
<text transform="translate(474.0 326.5) scale(0.91 1)" font-size="26.5" text-anchor="middle" fill="#4a4a4a" stroke="#4a4a4a" stroke-width="0.2" stroke-linejoin="round"><tspan font-style='italic'>ε</tspan> = 0.28</text>
<path d="M477.2 29.3H488.5M507.2 29.3H518.5" stroke="#e8821c" stroke-width="3.4" stroke-linecap="round" fill="none"/>
<text transform="translate(532.0 37.5) scale(0.88 1)" font-size="26.9" text-anchor="start" fill="#0c0c0c" stroke="#0c0c0c" stroke-width="0.6" stroke-linejoin="round">A1</text>
<text transform="translate(568.3 37.1) scale(0.988 1)" font-size="22.5" text-anchor="start" fill="#0c0c0c" stroke="#0c0c0c" stroke-width="0.7" stroke-linejoin="round"><tspan font-style='italic'>l</tspan>=1.025 nm</text>
<path d="M477.2 56.1H526.0" stroke="#e8821c" stroke-width="3.4" stroke-linecap="round" fill="none"/>
<text transform="translate(532.0 64.3) scale(0.88 1)" font-size="26.9" text-anchor="start" fill="#0c0c0c" stroke="#0c0c0c" stroke-width="0.6" stroke-linejoin="round">A2</text>
<text transform="translate(568.3 63.9) scale(0.988 1)" font-size="22.5" text-anchor="start" fill="#0c0c0c" stroke="#0c0c0c" stroke-width="0.7" stroke-linejoin="round"><tspan font-style='italic'>l</tspan>=1.025 nm</text>
<path d="M477.2 83.4H488.5M507.2 83.4H518.5" stroke="#e905f5" stroke-width="3.4" stroke-linecap="round" fill="none"/>
<text transform="translate(532.0 91.6) scale(0.88 1)" font-size="26.9" text-anchor="start" fill="#0c0c0c" stroke="#0c0c0c" stroke-width="0.6" stroke-linejoin="round">A1</text>
<text transform="translate(568.3 91.2) scale(0.988 1)" font-size="22.5" text-anchor="start" fill="#0c0c0c" stroke="#0c0c0c" stroke-width="0.7" stroke-linejoin="round"><tspan font-style='italic'>l</tspan>=4.47 nm</text>
<path d="M477.2 110.4H526.0" stroke="#e905f5" stroke-width="3.4" stroke-linecap="round" fill="none"/>
<text transform="translate(532.0 118.6) scale(0.88 1)" font-size="26.9" text-anchor="start" fill="#0c0c0c" stroke="#0c0c0c" stroke-width="0.6" stroke-linejoin="round">A2</text>
<text transform="translate(568.3 118.2) scale(0.988 1)" font-size="22.5" text-anchor="start" fill="#0c0c0c" stroke="#0c0c0c" stroke-width="0.7" stroke-linejoin="round"><tspan font-style='italic'>l</tspan>=4.47 nm</text>
<path d="M477.2 137.7H488.5M507.2 137.7H518.5" stroke="#3f7d1a" stroke-width="3.4" stroke-linecap="round" fill="none"/>
<text transform="translate(532.0 145.9) scale(0.88 1)" font-size="26.9" text-anchor="start" fill="#0c0c0c" stroke="#0c0c0c" stroke-width="0.6" stroke-linejoin="round">A1</text>
<text transform="translate(568.3 145.5) scale(0.988 1)" font-size="22.5" text-anchor="start" fill="#0c0c0c" stroke="#0c0c0c" stroke-width="0.7" stroke-linejoin="round"><tspan font-style='italic'>l</tspan>=16.53 nm</text>
<path d="M477.2 164.5H526.0" stroke="#3f7d1a" stroke-width="3.4" stroke-linecap="round" fill="none"/>
<text transform="translate(532.0 172.7) scale(0.88 1)" font-size="26.9" text-anchor="start" fill="#0c0c0c" stroke="#0c0c0c" stroke-width="0.6" stroke-linejoin="round">A2</text>
<text transform="translate(568.3 172.3) scale(0.988 1)" font-size="22.5" text-anchor="start" fill="#0c0c0c" stroke="#0c0c0c" stroke-width="0.7" stroke-linejoin="round"><tspan font-style='italic'>l</tspan>=16.53 nm</text>
</g>
<g class="panel">
<clipPath id="clipb"><rect x="983.4" y="2.5" width="783.9" height="430.7"/></clipPath>
<path d="M983.4 4.5H1767.3V435.3" fill="none" stroke="#424242" stroke-width="2.15" stroke-linejoin="round"/>
<path d="M983.4 3.5V430.7H1768.3" fill="none" stroke="#424242" stroke-width="2.35"/>
<line x1="974.1999999999999" y1="430.5" x2="983.4" y2="430.5" stroke="#424242" stroke-width="2.2"/>
<text transform="translate(968.9 437.1) scale(0.93 1)" font-size="24.0" text-anchor="end" fill="#0c0c0c" stroke="#0c0c0c" stroke-width="0.75" stroke-linejoin="round">0</text>
<line x1="978.4" y1="402.1" x2="983.4" y2="402.1" stroke="#424242" stroke-width="2.2"/>
<line x1="974.1999999999999" y1="373.6" x2="983.4" y2="373.6" stroke="#424242" stroke-width="2.2"/>
<text transform="translate(968.9 380.2) scale(0.93 1)" font-size="24.0" text-anchor="end" fill="#0c0c0c" stroke="#0c0c0c" stroke-width="0.75" stroke-linejoin="round">2</text>
<line x1="978.4" y1="345.2" x2="983.4" y2="345.2" stroke="#424242" stroke-width="2.2"/>
<line x1="974.1999999999999" y1="316.8" x2="983.4" y2="316.8" stroke="#424242" stroke-width="2.2"/>
<text transform="translate(968.9 323.4) scale(0.93 1)" font-size="24.0" text-anchor="end" fill="#0c0c0c" stroke="#0c0c0c" stroke-width="0.75" stroke-linejoin="round">4</text>
<line x1="978.4" y1="288.4" x2="983.4" y2="288.4" stroke="#424242" stroke-width="2.2"/>
<line x1="974.1999999999999" y1="259.9" x2="983.4" y2="259.9" stroke="#424242" stroke-width="2.2"/>
<text transform="translate(968.9 266.5) scale(0.93 1)" font-size="24.0" text-anchor="end" fill="#0c0c0c" stroke="#0c0c0c" stroke-width="0.75" stroke-linejoin="round">6</text>
<line x1="978.4" y1="231.5" x2="983.4" y2="231.5" stroke="#424242" stroke-width="2.2"/>
<line x1="974.1999999999999" y1="203.1" x2="983.4" y2="203.1" stroke="#424242" stroke-width="2.2"/>
<text transform="translate(968.9 209.7) scale(0.93 1)" font-size="24.0" text-anchor="end" fill="#0c0c0c" stroke="#0c0c0c" stroke-width="0.75" stroke-linejoin="round">8</text>
<line x1="978.4" y1="174.6" x2="983.4" y2="174.6" stroke="#424242" stroke-width="2.2"/>
<line x1="974.1999999999999" y1="146.2" x2="983.4" y2="146.2" stroke="#424242" stroke-width="2.2"/>
<text transform="translate(968.9 152.8) scale(0.93 1)" font-size="24.0" text-anchor="end" fill="#0c0c0c" stroke="#0c0c0c" stroke-width="0.75" stroke-linejoin="round">10</text>
<line x1="978.4" y1="117.8" x2="983.4" y2="117.8" stroke="#424242" stroke-width="2.2"/>
<line x1="974.1999999999999" y1="89.3" x2="983.4" y2="89.3" stroke="#424242" stroke-width="2.2"/>
<text transform="translate(968.9 95.9) scale(0.93 1)" font-size="24.0" text-anchor="end" fill="#0c0c0c" stroke="#0c0c0c" stroke-width="0.75" stroke-linejoin="round">12</text>
<line x1="978.4" y1="60.9" x2="983.4" y2="60.9" stroke="#424242" stroke-width="2.2"/>
<line x1="974.1999999999999" y1="32.5" x2="983.4" y2="32.5" stroke="#424242" stroke-width="2.2"/>
<text transform="translate(968.9 39.1) scale(0.93 1)" font-size="24.0" text-anchor="end" fill="#0c0c0c" stroke="#0c0c0c" stroke-width="0.75" stroke-linejoin="round">14</text>
<line x1="984.0" y1="430.7" x2="984.0" y2="439.09999999999997" stroke="#424242" stroke-width="2.2"/>
<text transform="translate(984.0 463.0) scale(1.0 1)" font-size="24.0" text-anchor="middle" fill="#0c0c0c" stroke="#0c0c0c" stroke-width="0.75" stroke-linejoin="round">0.0</text>
<line x1="1055.2" y1="430.7" x2="1055.2" y2="435.3" stroke="#424242" stroke-width="2.2"/>
<line x1="1126.4" y1="430.7" x2="1126.4" y2="439.09999999999997" stroke="#424242" stroke-width="2.2"/>
<text transform="translate(1126.4 463.0) scale(1.0 1)" font-size="24.0" text-anchor="middle" fill="#0c0c0c" stroke="#0c0c0c" stroke-width="0.75" stroke-linejoin="round">0.1</text>
<line x1="1197.6" y1="430.7" x2="1197.6" y2="435.3" stroke="#424242" stroke-width="2.2"/>
<line x1="1268.8" y1="430.7" x2="1268.8" y2="439.09999999999997" stroke="#424242" stroke-width="2.2"/>
<text transform="translate(1268.8 463.0) scale(1.0 1)" font-size="24.0" text-anchor="middle" fill="#0c0c0c" stroke="#0c0c0c" stroke-width="0.75" stroke-linejoin="round">0.2</text>
<line x1="1340.0" y1="430.7" x2="1340.0" y2="435.3" stroke="#424242" stroke-width="2.2"/>
<line x1="1411.2" y1="430.7" x2="1411.2" y2="439.09999999999997" stroke="#424242" stroke-width="2.2"/>
<text transform="translate(1411.2 463.0) scale(1.0 1)" font-size="24.0" text-anchor="middle" fill="#0c0c0c" stroke="#0c0c0c" stroke-width="0.75" stroke-linejoin="round">0.3</text>
<line x1="1482.4" y1="430.7" x2="1482.4" y2="435.3" stroke="#424242" stroke-width="2.2"/>
<line x1="1553.6" y1="430.7" x2="1553.6" y2="439.09999999999997" stroke="#424242" stroke-width="2.2"/>
<text transform="translate(1553.6 463.0) scale(1.0 1)" font-size="24.0" text-anchor="middle" fill="#0c0c0c" stroke="#0c0c0c" stroke-width="0.75" stroke-linejoin="round">0.4</text>
<line x1="1624.8" y1="430.7" x2="1624.8" y2="435.3" stroke="#424242" stroke-width="2.2"/>
<line x1="1696.0" y1="430.7" x2="1696.0" y2="439.09999999999997" stroke="#424242" stroke-width="2.2"/>
<text transform="translate(1696.0 463.0) scale(1.0 1)" font-size="24.0" text-anchor="middle" fill="#0c0c0c" stroke="#0c0c0c" stroke-width="0.75" stroke-linejoin="round">0.5</text>
<text transform="translate(1371.7 497.5) scale(0.96 1)" font-size="29.0" text-anchor="middle" fill="#0c0c0c" stroke="#0c0c0c" stroke-width="0.75" stroke-linejoin="round">Strain</text>
<text transform="translate(928.0 235.9) rotate(-90) scale(1.01 1)" font-size="27.0" text-anchor="middle" fill="#0c0c0c" stroke="#0c0c0c" stroke-width="0.75" stroke-linejoin="round">Stess (GPa)</text>
<text transform="translate(904.0 41.0) scale(1.05 1)" font-size="29.0" text-anchor="start" fill="#0c0c0c" stroke="#0c0c0c" stroke-width="0.4" stroke-linejoin="round">(b)</text>
<g clip-path="url(#clipb)">
<path d="M984.5 429.6L986.1 424.3L987.8 419.1L989.4 413.8L991.1 408.6L992.7 403.3L994.4 398.1L996.0 392.8L997.7 387.6L999.3 382.3L1000.9 377.1L1002.6 371.9L1004.2 366.6L1005.9 361.4L1007.5 356.2L1009.2 351.0L1010.8 345.8L1012.5 340.6L1014.1 335.4L1015.8 330.3L1017.4 325.1L1019.0 320.0L1020.7 314.8L1022.3 309.7L1024.0 304.6L1025.6 299.5L1027.3 294.5L1028.9 289.4L1030.6 284.4L1032.2 279.4L1033.8 274.4L1035.5 269.5L1037.1 264.5L1038.8 259.6L1040.4 254.7L1042.1 249.8L1043.7 245.0L1045.4 240.2L1047.0 235.4L1048.7 230.6L1050.3 225.9L1051.9 221.2L1053.6 216.5L1055.2 211.8L1056.9 207.2L1058.5 202.6L1060.2 198.1L1061.8 193.6L1063.5 189.1L1065.1 184.6L1066.7 180.2L1068.4 175.9L1070.0 171.5L1071.7 167.2L1073.3 163.0L1075.0 158.8L1076.6 154.6L1078.3 150.5L1079.9 146.4L1081.6 142.3L1083.2 138.3L1084.8 134.4L1086.5 130.5L1088.1 126.6L1089.8 122.8L1091.4 119.0L1093.1 115.3L1094.7 111.7L1096.4 108.0L1098.0 104.5L1099.6 101.0L1101.3 97.5L1102.9 94.1L1104.6 90.8L1106.2 87.5L1107.9 84.2L1109.5 81.1L1111.2 77.9L1112.8 74.9L1114.5 71.9L1116.1 68.9L1117.7 66.1L1119.3 64.0L1120.3 70.0L1121.1 80.0L1121.8 160.0L1122.3 240.0L1124.0 318.4L1125.2 352.0L1127.0 368.2L1130.8 377.6L1133.5 392.0L1135.8 408.6L1141.7 418.4L1147.5 422.4L1153.0 420.5L1158.0 419.5L1161.8 421.9L1165.1 420.0L1169.4 425.6L1173.1 422.8" fill="none" stroke="#e8821c" stroke-width="3.4" stroke-linejoin="round" stroke-dasharray="12 17" stroke-linecap="round" stroke-dashoffset="-4"/>
<path d="M984.5 429.6L986.1 424.3L987.8 419.1L989.4 413.8L991.1 408.6L992.7 403.3L994.4 398.1L996.0 392.8L997.7 387.6L999.3 382.3L1000.9 377.1L1002.6 371.9L1004.2 366.6L1005.9 361.4L1007.5 356.2L1009.2 351.0L1010.8 345.8L1012.5 340.6L1014.1 335.4L1015.8 330.3L1017.4 325.1L1019.0 320.0L1020.7 314.8L1022.3 309.7L1024.0 304.6L1025.6 299.5L1027.3 294.5L1028.9 289.4L1030.6 284.4L1032.2 279.4L1033.8 274.4L1035.5 269.5L1037.1 264.5L1038.8 259.6L1040.4 254.7L1042.1 249.8L1043.7 245.0L1045.4 240.2L1047.0 235.4L1048.7 230.6L1050.3 225.9L1051.9 221.2L1053.6 216.5L1055.2 211.8L1056.9 207.2L1058.5 202.6L1060.2 198.1L1061.8 193.6L1063.5 189.1L1065.1 184.6L1066.7 180.2L1068.4 175.9L1070.0 171.5L1071.7 167.2L1073.3 163.0L1075.0 158.8L1076.6 154.6L1078.3 150.5L1079.9 146.4L1081.6 142.3L1083.2 138.3L1084.8 134.4L1086.5 130.5L1088.1 126.6L1089.8 122.8L1091.4 119.0L1093.1 115.3L1094.7 111.7L1096.4 108.0L1098.0 104.5L1099.6 101.0L1101.3 97.5L1102.9 94.1L1104.6 90.8L1106.2 87.5L1107.9 84.2L1109.5 81.1L1111.2 77.9L1112.8 74.9L1114.5 71.9L1116.1 68.9L1117.7 66.1L1119.4 63.2L1121.0 60.5L1122.7 57.8L1124.3 55.2L1126.0 52.6L1127.6 50.1L1129.3 47.7L1130.9 45.3L1131.8 47.5L1132.2 60.0L1132.8 150.0L1133.4 250.0L1134.2 350.0L1134.8 426.0L1135.6 415.0L1136.4 401.2L1137.8 406.0L1139.2 400.2L1141.1 405.9L1142.5 409.0L1143.9 402.1L1145.8 410.6L1147.7 413.4L1149.6 420.0L1153.4 424.7L1156.2 425.6" fill="none" stroke="#e8821c" stroke-width="3.4" stroke-linejoin="round" stroke-linecap="butt"/>
<path d="M984.5 429.6L986.1 424.3L987.8 419.1L989.4 413.8L991.1 408.6L992.7 403.3L994.4 398.1L996.0 392.8L997.7 387.6L999.3 382.3L1000.9 377.1L1002.6 371.9L1004.2 366.6L1005.9 361.4L1007.5 356.2L1009.2 351.0L1010.8 345.8L1012.5 340.6L1014.1 335.4L1015.8 330.3L1017.4 325.1L1019.0 320.0L1020.7 314.8L1022.3 309.7L1024.0 304.6L1025.6 299.5L1027.3 294.5L1028.9 289.4L1030.6 284.4L1032.2 279.4L1033.8 274.4L1035.5 269.5L1037.1 264.5L1038.8 259.6L1040.4 254.7L1042.1 249.8L1043.7 245.0L1045.4 240.2L1047.0 235.4L1048.7 230.6L1050.3 225.9L1051.9 221.2L1053.6 216.5L1055.2 211.8L1056.9 207.2L1058.5 202.6L1060.2 198.1L1061.8 193.6L1063.5 189.1L1065.1 184.6L1066.7 180.2L1068.4 175.9L1070.0 171.5L1071.7 167.2L1073.3 163.0L1075.0 158.8L1076.6 154.6L1078.3 150.5L1079.9 146.4L1081.6 142.3L1083.2 138.3L1084.8 134.4L1086.5 130.5L1088.1 126.6L1089.8 122.8L1091.4 119.0L1093.1 115.3L1094.7 111.7L1096.4 108.0L1098.0 104.5L1099.6 101.0L1101.3 97.5L1102.9 94.1L1104.6 90.8L1106.2 87.5L1107.9 84.2L1109.5 81.1L1110.3 78.0L1110.8 77.2L1111.3 76.4L1111.9 75.7L1112.3 75.3L1112.6 75.2L1112.9 75.3L1113.1 75.6L1113.3 76.2L1113.5 77.0L1113.7 78.3L1114.0 80.1L1114.2 82.1L1114.4 83.8L1114.5 85.0L1115.2 95.0L1117.2 140.0L1117.6 200.0L1117.2 240.0L1118.1 265.5L1118.3 294.9L1119.1 324.3L1120.4 351.3L1122.3 363.5L1124.2 378.6L1126.0 385.2L1127.9 378.6L1132.6 392.7L1134.5 402.0L1135.9 409.6L1138.0 416.0L1140.2 420.0L1143.9 418.1L1147.0 421.5L1150.0 424.0" fill="none" stroke="#e905f5" stroke-width="3.4" stroke-linejoin="round" stroke-dasharray="12 17" stroke-linecap="round" stroke-dashoffset="5"/>
<path d="M984.5 429.6L985.3 429.0L986.4 428.3L987.7 427.4L989.2 426.4L990.7 425.4L992.1 424.4L993.5 423.4L994.6 422.5L995.5 421.7L996.4 420.9L997.1 420.2L997.8 419.5L998.4 418.8L999.1 418.0L999.8 417.3L1000.5 416.5L1001.3 415.7L1002.1 414.9L1002.9 414.1L1003.7 413.2L1004.5 412.4L1005.3 411.5L1006.1 410.5L1007.0 409.5L1007.9 408.4L1008.8 407.2L1009.7 406.0L1010.6 404.8L1011.5 403.5L1012.4 402.1L1013.3 400.8L1014.2 399.5L1015.0 398.2L1015.8 396.9L1016.6 395.6L1017.3 394.3L1018.1 393.0L1018.9 391.6L1019.7 390.1L1020.5 388.5L1021.3 386.9L1022.1 385.5L1022.9 384.0L1023.7 382.4L1024.6 380.7L1025.6 378.6L1026.7 376.2L1027.9 373.3L1029.3 369.8L1030.9 365.8L1032.7 361.4L1034.5 356.7L1036.4 351.8L1038.2 347.0L1040.0 342.4L1041.7 338.0L1043.3 333.9L1044.8 329.9L1046.2 326.1L1047.7 322.2L1049.1 318.4L1050.5 314.6L1051.9 310.7L1053.4 306.7L1054.9 302.6L1056.3 298.5L1057.8 294.3L1059.3 290.1L1060.8 285.9L1062.2 281.7L1063.7 277.5L1065.2 273.3L1066.7 268.9L1068.4 264.3L1070.1 259.6L1071.7 254.9L1073.3 250.4L1074.7 246.4L1076.0 242.8L1077.0 240.0L1077.6 238.2L1077.9 237.4L1077.9 237.3L1077.8 237.5L1077.8 237.7L1077.8 237.5L1078.2 236.5L1078.9 234.5L1080.1 231.3L1081.5 227.1L1083.3 222.3L1085.1 217.1L1087.1 211.7L1089.0 206.3L1090.9 201.2L1092.6 196.7L1094.2 192.6L1095.7 188.8L1097.2 185.1L1098.6 181.5L1100.1 178.0L1101.5 174.5L1102.9 170.9L1104.4 167.3L1105.9 163.6L1107.4 159.9L1108.8 156.1L1110.3 152.4L1111.8 148.7L1113.3 145.0L1114.7 141.4L1116.2 137.9L1117.7 134.4L1119.1 131.0L1120.6 127.6L1122.1 124.3L1123.5 121.0L1125.0 117.8L1126.4 114.6L1127.9 111.4L1129.4 108.3L1130.9 105.2L1132.3 102.2L1133.8 99.2L1135.3 96.2L1136.8 93.3L1138.2 90.4L1139.7 87.5L1141.2 84.5L1142.8 81.4L1144.5 78.2L1146.1 75.1L1147.7 72.2L1149.1 69.6L1150.2 67.4L1151.1 65.7L1152.0 66.5L1152.6 75.0L1153.0 150.0L1153.4 240.0L1154.2 330.0L1155.2 423.0L1156.0 405.0L1157.1 396.5L1159.9 398.4L1161.8 409.6L1164.6 404.0L1167.0 396.5L1168.4 405.9L1170.3 411.5L1172.6 415.3L1175.0 404.9L1176.9 409.6L1178.8 418.1L1180.6 425.6" fill="none" stroke="#e905f5" stroke-width="3.4" stroke-linejoin="round" stroke-linecap="butt"/>
<path d="M984.5 429.6L986.1 424.3L987.8 419.1L989.4 413.8L991.1 408.6L992.7 403.3L994.4 398.1L996.0 392.8L997.7 387.6L999.3 382.3L1000.9 377.1L1002.6 371.9L1004.2 366.6L1005.9 361.4L1007.5 356.2L1009.2 351.0L1010.8 345.8L1012.5 340.6L1014.1 335.4L1015.8 330.3L1017.4 325.1L1019.0 320.0L1020.7 314.8L1022.3 309.7L1024.0 304.6L1025.6 299.5L1027.3 294.5L1028.9 289.4L1030.6 284.4L1032.2 279.4L1033.8 274.4L1035.5 269.5L1037.1 264.5L1038.8 259.6L1040.4 254.7L1042.1 249.8L1043.7 245.0L1045.4 240.2L1047.0 235.4L1048.7 230.6L1050.3 225.9L1051.9 221.2L1053.6 216.5L1055.2 211.8L1056.9 207.2L1058.5 202.6L1060.2 198.1L1061.8 193.6L1063.5 189.1L1065.1 184.6L1066.7 180.2L1068.4 175.9L1070.0 171.5L1071.7 167.2L1073.3 163.0L1075.0 158.8L1076.6 154.6L1078.3 150.5L1079.9 146.4L1081.6 142.3L1083.2 138.3L1084.8 134.4L1086.5 130.5L1088.1 126.6L1089.8 122.8L1091.4 119.0L1093.1 115.3L1094.7 111.7L1096.4 108.0L1098.0 104.5L1099.6 101.0L1101.3 97.5L1102.9 94.1L1104.6 90.8L1106.2 87.5L1107.9 84.2L1109.5 81.1L1110.8 82.2L1111.1 81.8L1111.5 81.3L1111.9 81.0L1112.3 81.0L1112.6 81.2L1112.9 81.5L1113.2 82.0L1113.4 82.8L1113.6 84.0L1113.8 85.9L1113.9 88.4L1114.0 91.0L1114.1 93.4L1114.2 95.0L1114.6 150.0L1114.8 240.0L1115.2 290.0L1115.2 357.0L1115.2 386.0L1118.5 388.0L1122.8 393.6L1118.0 397.4L1116.2 406.0L1115.2 415.3L1119.0 409.5L1123.2 409.6L1128.0 413.4L1132.6 421.9L1135.0 427.0" fill="none" stroke="#3f7d1a" stroke-width="3.4" stroke-linejoin="round" stroke-dasharray="12 17" stroke-linecap="round"/>
<path d="M985.0 428.4L985.9 429.6L986.8 428.4L987.7 429.7L988.6 428.9L989.5 429.1L990.4 429.4L991.3 428.9L992.2 428.5L993.1 428.3L994.0 428.1L994.9 429.3L995.8 428.8L996.7 428.3L997.6 429.6L998.5 428.5L999.4 428.7L1000.3 428.5L1001.2 429.1L1002.1 429.0L1003.0 429.1L1003.9 428.5L1004.8 428.5L1005.7 428.5L1006.6 428.6L1007.5 428.3L1008.4 428.3L1009.3 429.7L1010.2 429.7L1011.1 428.3L1012.0 428.0L1012.9 428.4L1013.8 429.3L1014.7 429.4L1015.6 428.0L1016.5 429.0L1017.4 428.0L1018.3 428.9L1019.2 429.2L1020.1 429.8L1021.0 428.5L1021.9 429.4L1022.8 429.6L1023.7 429.7L1024.6 428.0L1025.5 428.8L1026.4 429.8L1027.3 428.7L1028.2 429.5L1029.1 429.0L1030.0 429.4L1030.9 428.9L1031.8 428.1L1032.7 428.2L1033.6 428.2L1034.5 428.5L1035.4 429.7L1036.3 429.1L1037.2 429.5L1038.1 429.0L1039.0 429.1L1039.9 429.5L1040.8 429.7L1041.7 429.6L1042.6 429.5L1043.5 428.2L1044.4 428.6L1045.3 428.1L1046.2 429.0L1047.1 429.4L1048.0 428.1L1048.9 428.3L1049.8 428.7L1050.7 428.4L1051.6 429.4L1052.5 428.6L1053.4 429.1L1054.3 428.9L1055.2 429.1L1056.1 429.7L1057.0 429.7L1057.9 428.2L1058.8 429.5L1059.7 428.6L1060.6 428.2L1061.5 428.7L1062.4 428.9L1063.3 429.7L1064.2 428.7L1065.1 428.0L1066.0 429.5L1066.9 428.2L1067.8 428.9L1068.7 429.5L1069.6 428.9L1070.5 428.8L1071.4 429.4L1072.3 428.0L1073.2 429.0L1074.1 428.7L1075.0 429.8L1075.9 429.4L1076.8 428.1L1077.7 428.3L1078.6 428.8L1079.5 429.3L1080.4 428.6L1081.3 428.6L1082.2 429.7L1083.1 429.7L1084.0 428.7L1084.9 429.6L1085.8 428.6L1086.7 428.1L1087.6 428.9L1088.5 429.2L1089.4 429.6L1090.3 429.7L1091.2 429.4L1092.1 429.4L1093.0 429.3L1093.9 429.3L1094.8 429.4L1095.7 429.8L1096.6 428.7L1097.5 428.1L1098.4 428.4L1099.3 428.4L1100.2 428.7L1101.1 429.5L1102.0 428.1L1102.9 428.8L1103.8 429.5L1104.7 428.5L1105.6 428.1L1106.5 428.4L1107.4 428.2L1108.3 429.5L1109.2 428.3L1110.1 428.4L1111.0 429.5L1111.9 429.5L1112.8 429.1L1113.7 429.6L1114.6 428.1L1115.5 429.7L1116.4 429.0L1117.3 428.5L1118.2 429.5L1119.1 429.2L1120.0 429.8L1120.9 428.2L1121.8 429.0L1122.7 428.9L1123.6 429.2L1124.5 428.4L1125.4 428.1L1126.3 429.0L1127.2 428.7L1128.1 429.6L1129.0 428.8L1129.9 428.8L1130.8 429.1L1131.7 428.9L1132.6 429.7L1133.5 429.4L1134.4 428.9L1135.3 428.4L1136.2 429.1L1137.1 429.3L1138.0 429.4L1138.9 429.8L1139.8 428.4L1140.7 428.8L1141.6 428.8L1142.5 428.6L1143.4 428.7L1144.3 428.9L1145.2 429.0L1146.1 428.5L1147.0 428.2L1147.9 428.5L1148.8 428.2L1149.7 428.6L1150.6 429.2L1151.5 429.1L1152.4 429.8L1153.3 429.0L1154.2 429.0L1155.1 429.2L1156.0 429.3L1156.9 429.1L1157.8 429.1L1158.7 429.1L1159.6 428.6L1160.5 429.4L1161.4 429.1L1162.3 428.6L1163.2 428.4L1164.1 428.1L1165.0 428.6L1165.9 428.0L1166.8 428.3L1167.7 428.1L1168.6 428.5L1169.5 428.6L1170.4 429.1L1171.3 429.4L1172.2 429.1L1173.1 428.3L1174.0 429.6L1174.9 429.3L1175.8 428.9L1176.7 429.2L1177.6 428.9L1178.5 428.3L1179.4 429.2L1180.3 429.8L1181.2 429.4L1182.1 428.3L1183.0 428.2L1183.9 429.7L1184.8 429.6L1185.7 429.3L1186.6 429.4L1187.5 428.3L1188.4 429.5L1189.3 428.3L1190.2 428.3L1191.1 428.7L1192.0 428.0L1192.9 429.5L1193.8 428.3L1194.7 429.3L1195.6 429.0L1196.5 429.4L1197.4 429.1L1198.3 429.7L1199.2 428.7L1200.1 428.9L1201.0 428.6L1201.9 429.3L1202.8 428.5L1203.7 429.4L1204.6 428.2L1205.5 428.4L1206.4 428.8L1207.3 428.2L1208.2 428.4L1209.1 429.5L1210.0 428.7L1210.9 428.4L1211.8 429.5L1212.7 429.0L1213.6 429.1L1214.5 429.6L1215.4 429.3L1216.3 428.5L1217.2 428.0L1218.1 429.0L1219.0 429.3L1219.9 429.5L1220.8 428.3L1221.7 429.1L1222.6 429.7L1223.5 428.5L1224.4 428.5L1225.3 428.8L1226.2 429.0L1227.1 429.8L1228.0 429.1L1228.9 429.6L1229.8 429.2L1230.7 428.9L1231.6 428.5L1232.5 428.6L1233.4 429.4L1234.3 428.3L1235.2 428.2L1236.1 428.4L1237.0 429.2L1237.9 428.7L1238.8 428.4L1239.7 428.6L1240.6 428.1L1241.5 428.8L1242.4 429.5L1243.3 428.8L1244.2 428.8L1245.1 428.0L1246.0 428.5L1246.9 428.1L1247.8 428.1L1248.7 429.6L1249.6 429.3L1250.5 429.5L1251.4 428.2L1252.3 428.6L1253.2 429.6L1254.1 428.7L1255.0 429.6L1255.9 429.7L1256.8 427.9L1257.7 428.7L1258.6 428.9L1259.5 428.5L1260.4 428.6L1261.3 428.5L1262.2 428.3L1263.1 427.9L1264.0 429.1L1264.9 429.6L1265.8 427.9L1266.7 429.3L1267.6 428.8L1268.5 427.8L1269.4 427.9L1270.3 428.7L1271.2 427.9L1272.1 428.3L1273.0 428.2L1273.9 429.5L1274.8 428.5L1275.7 428.2L1276.6 429.4L1277.5 429.4L1278.4 429.0L1279.3 427.9L1280.2 429.2L1281.1 428.4L1282.0 429.0L1282.9 428.9L1283.8 428.8L1284.7 429.0L1285.6 429.0L1286.5 428.4L1287.4 428.4L1288.3 427.7L1289.2 428.2L1290.1 429.1L1291.0 427.9L1291.9 428.8L1292.8 428.9L1293.7 427.8L1294.6 428.8L1295.5 428.6L1296.4 429.2L1297.3 428.1L1298.2 428.8L1299.1 428.9L1300.0 428.1L1300.9 427.8L1301.8 428.0L1302.7 428.5L1303.6 427.8L1304.5 428.9L1305.4 427.9L1306.3 428.7L1307.2 427.9L1308.1 428.2L1309.0 428.9L1309.9 428.2L1310.8 428.4L1311.7 427.9L1312.6 428.1L1313.5 427.3L1314.4 428.2L1315.3 428.0L1316.2 427.7L1317.1 427.5L1318.0 427.8L1318.9 427.7L1319.8 427.8L1320.7 428.6L1321.6 428.8L1322.5 428.8L1323.4 427.9L1324.3 428.7L1325.2 428.2L1326.1 428.9L1327.0 427.3L1327.9 428.4L1328.8 428.1L1329.7 428.0L1330.6 428.4L1331.5 428.5L1332.4 428.5L1333.3 427.6L1334.2 427.7L1335.1 428.1L1336.0 427.0L1336.9 428.4L1337.8 428.0L1338.7 427.7L1339.6 428.1L1340.5 428.6L1341.4 428.4L1342.3 428.1L1343.2 427.3L1344.1 428.6L1345.0 427.6L1345.9 428.5L1346.8 427.7L1347.7 428.0L1348.6 428.4L1349.5 426.9L1350.4 427.3L1351.3 427.1L1352.2 426.9L1353.1 427.4L1354.0 428.4L1354.9 427.2L1355.8 426.9L1356.7 428.4L1357.6 427.6L1358.5 427.5L1359.4 427.9L1360.3 428.1L1361.2 427.1L1362.1 427.0L1363.0 427.4L1363.9 428.2L1364.8 428.3L1365.7 427.0L1366.6 427.8L1367.5 427.4L1368.4 428.2L1369.3 427.1L1370.2 427.0L1371.1 426.6L1372.0 428.1L1372.9 426.8L1373.8 427.0L1374.7 426.9L1375.6 428.2L1376.5 426.6L1377.4 427.1L1378.3 427.7L1379.2 426.7L1380.1 427.5L1381.0 427.2L1381.9 426.4L1382.8 427.5L1383.7 427.0L1384.6 426.8L1385.5 428.1L1386.4 427.9L1387.3 427.2L1388.2 426.9L1389.1 426.4L1390.0 427.6L1390.9 426.8L1391.8 427.2L1392.7 427.4L1393.6 427.6L1394.5 426.6L1395.4 426.4L1396.3 427.6L1397.2 426.3L1398.1 427.0L1399.0 426.3L1399.9 426.6" fill="none" stroke="#3f7d1a" stroke-width="3.3" stroke-linejoin="round" stroke-linecap="butt"/>
<path d="M984.6 429.6L985.9 429.6L986.8 428.4L987.7 429.7L988.6 428.9L989.5 429.1L990.4 429.4L991.3 428.9L992.2 428.5L993.1 428.3L994.0 428.1L994.9 429.3L995.8 428.8L996.7 428.3L997.6 429.6L998.5 428.5L999.4 428.7L1000.3 428.5L1001.2 429.1L1002.1 429.0L1003.0 429.1L1003.9 428.5L1004.8 428.5L1005.7 428.5L1006.6 428.6L1007.5 428.3L1008.4 428.3L1009.3 429.7L1010.2 429.7L1011.1 428.3L1012.0 428.0L1012.9 428.4L1013.8 429.3L1014.7 429.4L1015.6 428.0L1016.5 429.0L1017.4 428.0L1018.3 428.9L1019.2 429.2L1020.1 429.8L1021.0 428.5L1021.9 429.4L1022.8 429.6L1023.7 429.7L1024.6 428.0L1025.5 428.8L1026.4 429.8L1027.3 428.7L1028.2 429.5L1029.1 429.0L1030.0 429.4L1030.9 428.9L1031.8 428.1L1032.7 428.2L1033.6 428.2L1034.5 428.5L1035.4 429.7L1036.3 429.1L1037.2 429.5L1038.1 429.0L1039.0 429.1L1039.9 429.5L1040.8 429.7L1041.7 429.6L1042.6 429.5L1043.5 428.2L1044.4 428.6L1045.3 428.1L1046.2 429.0L1047.1 429.4L1048.0 428.1L1048.9 428.3L1049.8 428.7L1050.7 428.4L1051.6 429.4L1052.5 428.6L1053.4 429.1L1054.3 428.9L1055.2 429.1L1056.1 429.7L1057.0 429.7L1057.9 428.2L1058.8 429.5L1059.7 428.6L1060.6 428.2L1061.5 428.7L1062.4 428.9L1063.3 429.7L1064.2 428.7L1065.1 428.0L1066.0 429.5L1066.9 428.2L1067.8 428.9L1068.7 429.5L1069.6 428.9L1070.5 428.8L1071.4 429.4L1072.3 428.0L1073.2 429.0L1074.1 428.7L1075.0 429.8L1075.9 429.4L1076.8 428.1L1077.7 428.3L1078.6 428.8L1079.5 429.3L1080.4 428.6L1081.3 428.6L1082.2 429.7L1083.1 429.7L1084.0 428.7L1084.9 429.6L1085.8 428.6L1086.7 428.1L1087.6 428.9L1088.5 429.2L1089.4 429.6L1090.3 429.7L1091.2 429.4L1092.1 429.4L1093.0 429.3L1093.9 429.3L1094.8 429.4L1095.7 429.8L1096.6 428.7L1097.5 428.1L1098.4 428.4L1099.3 428.4L1100.2 428.7L1101.1 429.5L1102.0 428.1L1102.9 428.8L1103.8 429.5L1104.7 428.5L1105.6 428.1L1106.5 428.4L1107.4 428.2L1108.3 429.5L1109.2 428.3L1110.1 428.4L1111.0 429.5L1111.9 429.5L1112.8 429.1L1113.7 429.6L1114.6 428.1L1115.5 429.7L1116.4 429.0L1117.3 428.5L1118.2 429.5L1119.1 429.2L1120.0 429.8L1120.9 428.2L1121.8 429.0L1122.7 428.9L1123.6 429.2L1124.5 428.4L1125.4 428.1L1126.3 429.0L1127.2 428.7L1128.1 429.6L1129.0 428.8L1129.9 428.8L1130.8 429.1L1131.7 428.9L1132.6 429.7L1133.5 429.4L1134.4 428.9L1135.3 428.4L1136.2 429.1L1137.1 429.3L1138.0 429.4L1138.9 429.8L1139.8 428.4L1140.7 428.8L1141.6 428.8L1142.5 428.6L1143.4 428.7L1144.3 428.9L1145.2 429.0L1146.1 428.5L1147.0 428.2L1147.9 428.5L1148.8 428.2L1149.7 428.6L1150.6 429.2L1151.5 429.1L1152.4 429.8L1153.3 429.0L1154.2 429.0L1155.1 429.2L1156.0 429.3L1156.9 429.1L1157.8 429.1L1158.7 429.1L1159.6 428.6L1160.5 429.4L1161.4 429.1L1162.3 428.6L1163.2 428.4L1164.1 428.1L1165.0 428.6L1165.9 428.0L1166.8 428.3L1167.7 428.1L1168.6 428.5L1169.5 428.6L1170.4 429.1L1171.3 429.4L1172.2 429.1L1173.1 428.3L1174.0 429.6L1174.9 429.3L1175.8 428.9L1176.7 429.2L1177.6 428.9L1178.5 428.3L1179.4 429.2L1180.3 429.8L1181.2 429.4L1182.1 428.3L1183.0 428.2L1183.9 429.7L1184.8 429.6L1185.7 429.3L1186.6 429.4L1187.5 428.3L1188.4 429.5L1189.3 428.3L1190.2 428.3L1191.1 428.7L1192.0 428.0L1192.9 429.5L1193.8 428.3L1194.7 429.3L1195.6 429.0L1196.5 429.4L1197.4 429.1L1198.3 429.7L1199.2 428.7L1200.1 428.9L1201.0 428.6L1201.9 429.3L1202.8 428.5L1203.7 429.4L1204.6 428.2L1205.5 428.4L1206.4 428.8L1207.3 428.2L1208.2 428.4L1209.1 429.5L1210.0 428.7L1210.9 428.4L1211.8 429.5L1212.7 429.0L1213.6 429.1L1214.5 429.6L1215.4 429.3L1216.3 428.5L1217.2 428.0L1218.1 429.0L1219.0 429.3L1219.9 429.5L1220.8 428.3L1221.7 429.1L1222.6 429.7L1223.5 428.5L1224.4 428.5L1225.3 428.8L1226.2 429.0L1227.1 429.8L1228.0 429.1L1228.9 429.6L1229.8 429.2L1230.7 428.9L1231.6 428.5L1232.5 428.6L1233.4 429.4L1234.3 428.3L1235.2 428.2L1236.1 428.4L1237.0 429.2L1237.9 428.7L1238.8 428.4L1239.7 428.6L1240.6 428.1L1241.5 428.8L1242.4 429.5L1243.3 428.8L1244.2 428.8L1245.1 428.0L1246.0 428.5L1246.9 428.1L1247.8 428.1L1248.7 429.6L1249.6 429.3L1250.5 429.5L1251.4 428.2L1252.3 428.6L1253.2 429.6L1254.1 428.7L1255.0 429.6L1255.9 429.7L1256.8 427.9L1257.7 428.7L1258.6 428.9L1259.5 428.5L1260.4 428.6L1261.3 428.5L1262.2 428.3L1263.1 427.9L1264.0 429.1L1264.9 429.6L1265.8 427.9L1266.7 429.3L1267.6 428.8L1268.5 427.8L1269.4 427.9L1270.3 428.7L1271.2 427.9L1272.1 428.3L1273.0 428.2L1273.9 429.5L1274.8 428.5L1275.7 428.2L1276.6 429.4L1277.5 429.4L1278.4 429.0L1279.3 427.9L1280.2 429.2L1281.1 428.4L1282.0 429.0L1282.9 428.9L1283.8 428.8L1284.7 429.0L1285.6 429.0L1286.5 428.4L1287.4 428.4L1288.3 427.7L1289.2 428.2L1290.1 429.1L1291.0 427.9L1291.9 428.8L1292.8 428.9L1293.7 427.8L1294.6 428.8L1295.5 428.6L1296.4 429.2L1297.3 428.1L1298.2 428.8L1299.1 428.9L1300.0 428.1L1300.9 427.8L1301.8 428.0L1302.7 428.5L1303.6 427.8L1304.5 428.9L1305.4 427.9L1306.3 428.7L1307.2 427.9L1308.1 428.2L1309.0 428.9L1309.9 428.2L1310.8 428.4L1311.7 427.9L1312.6 428.1L1313.5 427.3L1314.4 428.2L1315.3 428.0L1316.2 427.7L1317.1 427.5L1318.0 427.8L1318.9 427.7L1319.8 427.8L1320.7 428.6L1321.6 428.8L1322.5 428.8L1323.4 427.9L1324.3 428.7L1325.2 428.2L1326.1 428.9L1327.0 427.3L1327.9 428.4L1328.8 428.1L1329.7 428.0L1330.6 428.4L1331.5 428.5L1332.4 428.5L1333.3 427.6L1334.2 427.7L1335.1 428.1L1336.0 427.0L1336.9 428.4L1337.8 428.0L1338.7 427.7L1339.6 428.1L1340.5 428.6L1341.4 428.4L1342.3 428.1L1343.2 427.3L1344.1 428.6L1345.0 427.6L1345.9 428.5L1346.8 427.7L1347.7 428.0L1348.6 428.4L1349.5 426.9L1350.4 427.3L1351.3 427.1L1352.2 426.9L1353.1 427.4L1354.0 428.4L1354.9 427.2L1355.8 426.9L1356.7 428.4L1357.6 427.6L1358.5 427.5L1359.4 427.9L1360.3 428.1L1361.2 427.1L1362.1 427.0L1363.0 427.4L1363.9 428.2L1364.8 428.3L1365.7 427.0L1366.6 427.8L1367.5 427.4L1368.4 428.2L1369.3 427.1L1370.2 427.0L1371.1 426.6L1372.0 428.1L1372.9 426.8L1373.8 427.0L1374.7 426.9L1375.6 428.2L1376.5 426.6L1377.4 427.1L1378.3 427.7L1379.2 426.7L1380.1 427.5L1381.0 427.2L1381.9 426.4L1382.8 427.5L1383.7 427.0L1384.6 426.8L1385.5 428.1L1386.4 427.9L1387.3 427.2L1388.2 426.9L1389.1 426.4L1390.0 427.6L1390.9 426.8L1391.8 427.2L1392.7 427.4L1393.6 427.6L1394.5 426.6L1395.4 426.4L1396.3 427.6L1397.2 426.3L1398.1 427.0L1399.0 426.3L1399.9 426.6L1400.0 426.0L1401.2 427.1L1402.5 426.0L1403.8 424.8L1405.0 425.9L1406.2 427.0L1407.5 425.9L1408.8 424.7L1410.0 425.8L1411.2 426.9L1412.5 425.7L1413.8 424.6L1415.0 425.6L1416.2 426.7L1417.5 425.6L1418.8 424.4L1420.0 425.5L1421.2 426.5L1422.5 425.4L1423.8 424.3L1425.0 425.3L1426.2 426.4L1427.5 425.2L1428.8 424.1L1430.0 425.2L1431.2 426.2L1432.5 425.1L1433.8 423.9L1435.0 425.0L1436.2 426.1L1437.5 424.9L1438.8 423.8L1440.0 424.8L1441.2 425.9L1442.5 424.8L1443.8 423.6L1445.0 424.7L1446.2 425.7L1447.5 424.6L1448.8 423.5L1450.0 424.5L1451.2 425.6L1452.5 424.4L1453.8 423.3L1455.0 424.4L1456.2 425.4L1457.5 424.3L1458.8 423.1L1460.0 424.2L1461.2 425.3L1462.5 424.1L1463.8 423.0L1465.0 424.0L1466.2 425.1L1467.5 424.0L1468.8 422.8L1470.0 423.9L1471.2 424.9L1472.5 423.8L1473.8 422.7L1475.0 423.7L1476.2 424.8L1477.5 423.6L1478.8 422.5L1480.0 423.6L1481.2 424.6L1482.5 423.5L1483.8 422.2L1485.0 423.2L1486.2 424.2L1487.5 422.9L1488.8 421.7L1490.0 422.7L1491.2 423.7L1492.5 422.4L1493.8 421.2L1495.0 422.2L1496.2 423.2L1497.5 421.9L1498.8 420.7L1500.0 421.7L1501.2 422.7L1502.5 421.5L1503.8 420.2L1505.0 421.2L1506.2 422.2L1507.5 421.0L1508.8 419.7L1510.0 420.7L1511.2 421.7L1512.5 420.4L1513.8 419.2L1515.0 420.2L1516.2 421.1L1517.5 419.7L1518.8 418.3L1520.0 419.1L1521.2 419.9L1522.5 418.5L1523.8 417.1L1525.0 417.9L1526.2 418.6L1527.5 417.2L1528.8 415.8L1530.0 416.6L1531.2 417.4L1532.5 416.0L1533.8 414.6L1534.9 415.0L1536.1 414.3L1537.5 413.4L1539.1 412.4L1540.8 411.3L1542.5 410.1L1544.0 408.9L1545.4 407.7L1546.6 406.5L1547.8 405.3L1549.0 404.0L1550.1 402.7L1551.1 401.3L1552.2 399.8L1553.3 398.2L1554.4 396.4L1555.5 394.5L1556.6 392.4L1557.8 390.1L1558.9 387.8L1560.0 385.5L1561.1 383.1L1562.3 380.7L1563.4 378.4L1564.5 376.2L1565.6 374.0L1566.8 371.8L1567.9 369.6L1569.0 367.4L1570.2 365.1L1571.3 362.7L1572.5 360.3L1573.7 357.9L1574.7 355.5L1575.8 353.1L1576.9 350.7L1578.1 348.0L1579.4 345.2L1580.9 341.9L1582.5 338.3L1584.4 334.2L1586.5 329.5L1588.7 324.6L1591.0 319.3L1593.4 314.0L1595.9 308.7L1598.3 303.4L1600.6 298.4L1602.9 293.5L1605.1 288.7L1607.4 283.9L1609.7 279.2L1612.0 274.4L1614.3 269.7L1616.5 265.1L1618.8 260.4L1621.1 255.8L1623.3 251.2L1625.6 246.6L1627.9 242.0L1630.1 237.5L1632.4 233.0L1634.6 228.5L1636.9 224.1L1639.2 219.7L1641.4 215.4L1643.7 211.1L1645.9 206.8L1648.2 202.5L1650.5 198.3L1652.7 194.0L1655.0 189.7L1657.3 185.4L1659.5 181.0L1661.8 176.6L1664.1 172.2L1666.4 167.9L1668.7 163.6L1670.9 159.3L1673.2 155.2L1675.5 151.1L1677.7 147.2L1680.0 143.2L1682.3 139.3L1684.5 135.5L1686.8 131.8L1689.0 128.1L1691.3 124.4L1693.6 120.7L1696.1 116.9L1698.6 113.1L1701.0 109.4L1703.4 105.9L1705.6 102.6L1707.7 99.7L1709.4 97.2L1710.9 95.1L1712.2 93.4L1713.2 92.1L1714.2 91.0L1715.0 90.1L1715.6 89.3L1716.2 88.7L1716.7 88.1L1717.4 90.0L1717.9 120.0L1718.5 215.0L1720.3 323.8L1723.9 360.1L1727.6 389.1L1729.5 386.0L1731.9 380.0L1733.5 385.0L1735.5 390.9L1737.5 387.0L1739.2 384.7L1740.5 394.0L1742.1 403.6L1745.0 414.0L1748.2 425.3" fill="none" stroke="#3f7d1a" stroke-width="3.4" stroke-linejoin="round" stroke-linecap="butt"/>
</g>
<rect x="1261.7" y="209.2" width="189.2" height="41.7" fill="none" stroke="#fafafa" stroke-width="1"/>
<path d="M1261.7 228.9A24.8 24.8 0 0 1 1309.8 231.1A24.1 24.1 0 0 0 1357.2 228.9A23.6 23.6 0 0 1 1403.5 228.9A24.1 24.1 0 0 0 1450.9 227.7" fill="none" stroke="#d8d070" stroke-width="2.9000000000000004" stroke-linecap="round" opacity="0.6"/>
<path d="M1261.7 228.9A24.8 24.8 0 0 1 1309.8 231.1A24.1 24.1 0 0 0 1357.2 228.9A23.6 23.6 0 0 1 1403.5 228.9A24.1 24.1 0 0 0 1450.9 227.7" fill="none" stroke="#9c4cc0" stroke-width="1.8" stroke-linecap="round"/>
<rect x="1240.5" y="277.6" width="254.0" height="32.1" fill="none" stroke="#fafafa" stroke-width="1"/>
<path d="M1240.5 294.0A40.2 40.2 0 0 1 1303.0 295.2A45.2 45.2 0 0 0 1369.6 292.9A35.4 35.4 0 0 1 1427.2 292.9A45.6 45.6 0 0 0 1494.5 294.0" fill="none" stroke="#d8d070" stroke-width="2.9000000000000004" stroke-linecap="round" opacity="0.6"/>
<path d="M1240.5 294.0A40.2 40.2 0 0 1 1303.0 295.2A45.2 45.2 0 0 0 1369.6 292.9A35.4 35.4 0 0 1 1427.2 292.9A45.6 45.6 0 0 0 1494.5 294.0" fill="none" stroke="#9c4cc0" stroke-width="1.8" stroke-linecap="round"/>
<rect x="1199.2" y="342.1" width="314.4" height="26.3" fill="none" stroke="#fafafa" stroke-width="1"/>
<path d="M1199.2 355.0A79.3 79.3 0 0 1 1274.8 353.8A68.7 68.7 0 0 0 1358.3 352.7A77.3 77.3 0 0 1 1432.8 351.6A90.1 90.1 0 0 0 1513.6 355.0" fill="none" stroke="#d8d070" stroke-width="2.9000000000000004" stroke-linecap="round" opacity="0.6"/>
<path d="M1199.2 355.0A79.3 79.3 0 0 1 1274.8 353.8A68.7 68.7 0 0 0 1358.3 352.7A77.3 77.3 0 0 1 1432.8 351.6A90.1 90.1 0 0 0 1513.6 355.0" fill="none" stroke="#9c4cc0" stroke-width="1.8" stroke-linecap="round"/>
<path d="M1253.3 224.1H1223.1V219.6L1212.6 229.2L1223.1 238.79999999999998V234.29999999999998H1253.3Z" fill="url(#gl)"/>
<path d="M1468.8 224.1H1499.8V219.6L1510.3 229.2L1499.8 238.79999999999998V234.29999999999998H1468.8Z" fill="url(#gr)"/>
<path d="M1231.2 286.4H1201.5V281.9L1191 291.5L1201.5 301.1V296.6H1231.2Z" fill="url(#gl)"/>
<path d="M1506.4 286.4H1536.2V281.9L1546.7 291.5L1536.2 301.1V296.6H1506.4Z" fill="url(#gr)"/>
<path d="M1185.8 345.29999999999995H1158.2V340.79999999999995L1147.7 350.4L1158.2 360.0V355.5H1185.8Z" fill="url(#gl)"/>
<path d="M1524.1 345.29999999999995H1554.3V340.79999999999995L1564.8 350.4L1554.3 360.0V355.5H1524.1Z" fill="url(#gr)"/>
<text transform="translate(1344.8 207.1) scale(0.91 1)" font-size="26.5" text-anchor="middle" fill="#4a4a4a" stroke="#4a4a4a" stroke-width="0.2" stroke-linejoin="round"><tspan font-style='italic'>ε</tspan> = 0</text>
<text transform="translate(1352.0 281.1) scale(0.91 1)" font-size="26.5" text-anchor="middle" fill="#4a4a4a" stroke="#4a4a4a" stroke-width="0.2" stroke-linejoin="round"><tspan font-style='italic'>ε</tspan> = 0.15</text>
<text transform="translate(1350.6 340.0) scale(0.91 1)" font-size="26.5" text-anchor="middle" fill="#4a4a4a" stroke="#4a4a4a" stroke-width="0.2" stroke-linejoin="round"><tspan font-style='italic'>ε</tspan> = 0.28</text>
<path d="M1261.4 34.4H1272.7M1291.4 34.4H1302.7" stroke="#e8821c" stroke-width="3.4" stroke-linecap="round" fill="none"/>
<text transform="translate(1313.9 42.6) scale(0.88 1)" font-size="26.9" text-anchor="start" fill="#0c0c0c" stroke="#0c0c0c" stroke-width="0.6" stroke-linejoin="round">A1</text>
<text transform="translate(1350.3 42.2) scale(0.988 1)" font-size="22.5" text-anchor="start" fill="#0c0c0c" stroke="#0c0c0c" stroke-width="0.7" stroke-linejoin="round"><tspan font-style='italic'>l</tspan>=2.11 nm</text>
<path d="M1261.4 61.2H1310.2" stroke="#e8821c" stroke-width="3.4" stroke-linecap="round" fill="none"/>
<text transform="translate(1313.9 69.4) scale(0.88 1)" font-size="26.9" text-anchor="start" fill="#0c0c0c" stroke="#0c0c0c" stroke-width="0.6" stroke-linejoin="round">A2</text>
<text transform="translate(1350.3 69.0) scale(0.988 1)" font-size="22.5" text-anchor="start" fill="#0c0c0c" stroke="#0c0c0c" stroke-width="0.7" stroke-linejoin="round"><tspan font-style='italic'>l</tspan>=2.11 nm</text>
<path d="M1261.4 88.7H1272.7M1291.4 88.7H1302.7" stroke="#e905f5" stroke-width="3.4" stroke-linecap="round" fill="none"/>
<text transform="translate(1313.9 96.9) scale(0.88 1)" font-size="26.9" text-anchor="start" fill="#0c0c0c" stroke="#0c0c0c" stroke-width="0.6" stroke-linejoin="round">A1</text>
<text transform="translate(1350.3 96.5) scale(0.988 1)" font-size="22.5" text-anchor="start" fill="#0c0c0c" stroke="#0c0c0c" stroke-width="0.7" stroke-linejoin="round"><tspan font-style='italic'>l</tspan>=5.35 nm</text>
<path d="M1261.4 116H1310.2" stroke="#e905f5" stroke-width="3.4" stroke-linecap="round" fill="none"/>
<text transform="translate(1313.9 124.2) scale(0.88 1)" font-size="26.9" text-anchor="start" fill="#0c0c0c" stroke="#0c0c0c" stroke-width="0.6" stroke-linejoin="round">A2</text>
<text transform="translate(1350.3 123.8) scale(0.988 1)" font-size="22.5" text-anchor="start" fill="#0c0c0c" stroke="#0c0c0c" stroke-width="0.7" stroke-linejoin="round"><tspan font-style='italic'>l</tspan>=5.35 nm</text>
<path d="M1261.4 142.8H1272.7M1291.4 142.8H1302.7" stroke="#3f7d1a" stroke-width="3.4" stroke-linecap="round" fill="none"/>
<text transform="translate(1313.9 151.0) scale(0.88 1)" font-size="26.9" text-anchor="start" fill="#0c0c0c" stroke="#0c0c0c" stroke-width="0.6" stroke-linejoin="round">A1</text>
<text transform="translate(1350.3 150.6) scale(0.988 1)" font-size="22.5" text-anchor="start" fill="#0c0c0c" stroke="#0c0c0c" stroke-width="0.7" stroke-linejoin="round"><tspan font-style='italic'>l</tspan>=18.89 nm</text>
<path d="M1261.4 169.6H1310.2" stroke="#3f7d1a" stroke-width="3.4" stroke-linecap="round" fill="none"/>
<text transform="translate(1313.9 177.8) scale(0.88 1)" font-size="26.9" text-anchor="start" fill="#0c0c0c" stroke="#0c0c0c" stroke-width="0.6" stroke-linejoin="round">A2</text>
<text transform="translate(1350.3 177.4) scale(0.988 1)" font-size="22.5" text-anchor="start" fill="#0c0c0c" stroke="#0c0c0c" stroke-width="0.7" stroke-linejoin="round"><tspan font-style='italic'>l</tspan>=18.89 nm</text>
</g>
<g class="panel">
<clipPath id="clipc"><rect x="98.5" y="520.9" width="782.2" height="430.30000000000007"/></clipPath>
<path d="M98.5 522.9H880.7V953.3000000000001" fill="none" stroke="#424242" stroke-width="2.15" stroke-linejoin="round"/>
<path d="M98.5 521.9V948.7H881.7" fill="none" stroke="#424242" stroke-width="2.35"/>
<line x1="89.3" y1="948.7" x2="98.5" y2="948.7" stroke="#424242" stroke-width="2.2"/>
<text transform="translate(82.9 955.3) scale(0.93 1)" font-size="24.0" text-anchor="end" fill="#0c0c0c" stroke="#0c0c0c" stroke-width="0.75" stroke-linejoin="round">0</text>
<line x1="93.5" y1="918.3" x2="98.5" y2="918.3" stroke="#424242" stroke-width="2.2"/>
<line x1="89.3" y1="888.0" x2="98.5" y2="888.0" stroke="#424242" stroke-width="2.2"/>
<text transform="translate(82.9 894.6) scale(0.93 1)" font-size="24.0" text-anchor="end" fill="#0c0c0c" stroke="#0c0c0c" stroke-width="0.75" stroke-linejoin="round">2</text>
<line x1="93.5" y1="857.6" x2="98.5" y2="857.6" stroke="#424242" stroke-width="2.2"/>
<line x1="89.3" y1="827.2" x2="98.5" y2="827.2" stroke="#424242" stroke-width="2.2"/>
<text transform="translate(82.9 833.8) scale(0.93 1)" font-size="24.0" text-anchor="end" fill="#0c0c0c" stroke="#0c0c0c" stroke-width="0.75" stroke-linejoin="round">4</text>
<line x1="93.5" y1="796.9" x2="98.5" y2="796.9" stroke="#424242" stroke-width="2.2"/>
<line x1="89.3" y1="766.5" x2="98.5" y2="766.5" stroke="#424242" stroke-width="2.2"/>
<text transform="translate(82.9 773.1) scale(0.93 1)" font-size="24.0" text-anchor="end" fill="#0c0c0c" stroke="#0c0c0c" stroke-width="0.75" stroke-linejoin="round">6</text>
<line x1="93.5" y1="736.1" x2="98.5" y2="736.1" stroke="#424242" stroke-width="2.2"/>
<line x1="89.3" y1="705.7" x2="98.5" y2="705.7" stroke="#424242" stroke-width="2.2"/>
<text transform="translate(82.9 712.3) scale(0.93 1)" font-size="24.0" text-anchor="end" fill="#0c0c0c" stroke="#0c0c0c" stroke-width="0.75" stroke-linejoin="round">8</text>
<line x1="93.5" y1="675.4" x2="98.5" y2="675.4" stroke="#424242" stroke-width="2.2"/>
<line x1="89.3" y1="645.0" x2="98.5" y2="645.0" stroke="#424242" stroke-width="2.2"/>
<text transform="translate(82.9 651.6) scale(0.93 1)" font-size="24.0" text-anchor="end" fill="#0c0c0c" stroke="#0c0c0c" stroke-width="0.75" stroke-linejoin="round">10</text>
<line x1="93.5" y1="614.6" x2="98.5" y2="614.6" stroke="#424242" stroke-width="2.2"/>
<line x1="89.3" y1="584.3" x2="98.5" y2="584.3" stroke="#424242" stroke-width="2.2"/>
<text transform="translate(82.9 590.9) scale(0.93 1)" font-size="24.0" text-anchor="end" fill="#0c0c0c" stroke="#0c0c0c" stroke-width="0.75" stroke-linejoin="round">12</text>
<line x1="93.5" y1="553.9" x2="98.5" y2="553.9" stroke="#424242" stroke-width="2.2"/>
<line x1="89.3" y1="523.5" x2="98.5" y2="523.5" stroke="#424242" stroke-width="2.2"/>
<text transform="translate(82.9 530.1) scale(0.93 1)" font-size="24.0" text-anchor="end" fill="#0c0c0c" stroke="#0c0c0c" stroke-width="0.75" stroke-linejoin="round">14</text>
<line x1="98.7" y1="948.7" x2="98.7" y2="957.1" stroke="#424242" stroke-width="2.2"/>
<text transform="translate(98.7 982.0) scale(1.0 1)" font-size="24.0" text-anchor="middle" fill="#0c0c0c" stroke="#0c0c0c" stroke-width="0.75" stroke-linejoin="round">0.00</text>
<line x1="175.0" y1="948.7" x2="175.0" y2="953.3000000000001" stroke="#424242" stroke-width="2.2"/>
<line x1="251.3" y1="948.7" x2="251.3" y2="957.1" stroke="#424242" stroke-width="2.2"/>
<text transform="translate(251.3 982.0) scale(1.0 1)" font-size="24.0" text-anchor="middle" fill="#0c0c0c" stroke="#0c0c0c" stroke-width="0.75" stroke-linejoin="round">0.04</text>
<line x1="327.6" y1="948.7" x2="327.6" y2="953.3000000000001" stroke="#424242" stroke-width="2.2"/>
<line x1="403.9" y1="948.7" x2="403.9" y2="957.1" stroke="#424242" stroke-width="2.2"/>
<text transform="translate(403.9 982.0) scale(1.0 1)" font-size="24.0" text-anchor="middle" fill="#0c0c0c" stroke="#0c0c0c" stroke-width="0.75" stroke-linejoin="round">0.08</text>
<line x1="480.2" y1="948.7" x2="480.2" y2="953.3000000000001" stroke="#424242" stroke-width="2.2"/>
<line x1="556.5" y1="948.7" x2="556.5" y2="957.1" stroke="#424242" stroke-width="2.2"/>
<text transform="translate(556.5 982.0) scale(1.0 1)" font-size="24.0" text-anchor="middle" fill="#0c0c0c" stroke="#0c0c0c" stroke-width="0.75" stroke-linejoin="round">0.12</text>
<line x1="632.8" y1="948.7" x2="632.8" y2="953.3000000000001" stroke="#424242" stroke-width="2.2"/>
<line x1="709.1" y1="948.7" x2="709.1" y2="957.1" stroke="#424242" stroke-width="2.2"/>
<text transform="translate(709.1 982.0) scale(1.0 1)" font-size="24.0" text-anchor="middle" fill="#0c0c0c" stroke="#0c0c0c" stroke-width="0.75" stroke-linejoin="round">0.16</text>
<line x1="785.4" y1="948.7" x2="785.4" y2="953.3000000000001" stroke="#424242" stroke-width="2.2"/>
<line x1="861.7" y1="948.7" x2="861.7" y2="957.1" stroke="#424242" stroke-width="2.2"/>
<text transform="translate(861.7 982.0) scale(1.0 1)" font-size="24.0" text-anchor="middle" fill="#0c0c0c" stroke="#0c0c0c" stroke-width="0.75" stroke-linejoin="round">0.20</text>
<text transform="translate(486.2 1016.0) scale(0.96 1)" font-size="29.0" text-anchor="middle" fill="#0c0c0c" stroke="#0c0c0c" stroke-width="0.75" stroke-linejoin="round">Strain</text>
<text transform="translate(41.5 754.5) rotate(-90) scale(1.01 1)" font-size="27.0" text-anchor="middle" fill="#0c0c0c" stroke="#0c0c0c" stroke-width="0.75" stroke-linejoin="round">Stess (GPa)</text>
<text transform="translate(3.0 534.5) scale(1.05 1)" font-size="29.0" text-anchor="start" fill="#0c0c0c" stroke="#0c0c0c" stroke-width="0.4" stroke-linejoin="round">(c)</text>
<g clip-path="url(#clipc)">
<path d="M98.8 948.0L104.0 940.8L109.3 933.6L114.5 926.4L119.7 919.2L125.0 912.0L130.2 904.9L135.4 897.8L140.7 890.7L145.9 883.6L151.1 876.5L156.4 869.4L161.6 862.4L166.8 855.4L172.1 848.4L177.3 841.5L182.5 834.6L187.7 827.7L193.0 820.8L198.2 814.0L203.4 807.2L208.7 800.5L213.9 793.8L219.1 787.1L224.4 780.5L229.6 773.9L234.8 767.4L240.1 760.9L245.3 754.4L250.5 748.0L255.8 741.7L261.0 735.4L266.2 729.2L271.5 723.0L276.7 716.8L281.9 710.8L287.2 704.7L292.4 698.8L297.6 692.9L302.9 687.1L308.1 681.3L313.3 675.6L318.6 670.0L323.8 664.4L329.0 658.9L334.2 653.5L339.5 648.1L344.7 642.8L349.9 637.6L355.2 632.5L360.4 627.5L365.6 622.5L370.9 617.6L376.1 612.8L381.3 608.1L386.6 603.5L391.8 599.0L397.0 594.5L402.3 590.1L407.5 585.9L408.6 585.8L411.0 589.0L414.3 595.3L415.3 618.8L416.3 658.0L417.3 709.0L418.2 756.0L419.2 780.0L420.2 808.8L422.2 867.6L425.1 914.7L435.9 918.6L444.0 923.0L452.5 933.3L463.3 927.5L477.0 928.4L486.9 935.3L498.6 941.2" fill="none" stroke="#e8821c" stroke-width="3.3" stroke-linejoin="round" stroke-dasharray="12 17" stroke-linecap="round" stroke-dashoffset="24.8"/>
<path d="M98.8 948.0L100.0 947.9L101.6 947.8L103.5 947.7L105.6 947.7L107.9 947.0L110.2 947.3L112.6 947.7L115.0 947.0L117.3 946.3L119.4 946.5L121.4 946.8L123.4 946.4L125.4 944.7L127.3 944.1L129.3 945.8L131.2 946.7L133.2 944.9L135.1 942.8L137.0 942.9L139.0 944.7L141.0 944.7L143.0 942.3L145.1 940.7L147.1 941.9L149.2 943.2L151.2 941.8L153.1 939.2L155.1 938.8L156.9 940.2L158.6 940.9L160.2 939.6L161.8 937.4L163.2 936.1L164.6 936.2L166.0 937.2L167.3 937.8L168.6 937.3L169.9 935.7L171.1 933.8L172.4 932.6L173.7 932.6L174.9 933.4L176.1 934.2L177.2 934.1L178.4 933.0L179.5 931.3L180.6 929.7L181.8 928.7L182.9 928.8L184.1 929.5L185.3 930.2L186.5 930.0L187.6 928.8L188.8 927.0L190.0 925.2L191.2 924.4L192.4 924.5L193.5 925.2L194.7 925.6L195.9 925.1L197.0 923.7L198.1 921.9L199.2 920.3L200.2 919.4L201.3 919.3L202.3 919.8L203.5 920.2L204.7 919.8L206.1 918.0L207.6 915.0L209.2 912.5L211.0 911.8L212.9 911.9L214.9 909.8L217.0 905.5L219.0 902.5L221.1 902.2L223.2 901.2L225.3 897.4L227.3 893.5L229.3 892.1L231.2 892.0L233.2 889.9L235.1 886.1L237.1 883.5L239.1 881.7L241.0 879.9L243.0 877.4L244.9 874.5L246.9 872.1L248.9 870.3L250.8 868.4L252.8 865.6L254.7 862.7L256.7 860.5L258.7 858.8L260.6 856.5L262.6 853.6L264.5 850.9L266.5 848.9L268.5 847.1L270.4 844.6L272.4 841.6L274.3 839.1L276.3 837.4L278.3 835.4L280.2 832.7L282.2 829.8L284.1 827.5L286.1 825.8L288.1 823.6L290.0 820.7L292.0 817.9L293.9 815.9L295.9 814.1L297.9 811.7L299.8 808.7L301.8 806.2L303.7 804.4L305.7 802.5L307.7 799.8L309.7 796.9L311.7 794.6L313.7 792.9L315.7 790.7L317.7 787.8L319.6 785.1L321.6 783.2L323.5 781.6L325.3 779.4L327.0 776.9L328.6 774.7L330.1 773.1L331.6 771.8L333.1 770.5L334.6 768.7L336.1 766.4L337.9 764.0L339.7 762.2L341.8 760.0L344.1 757.3L346.7 754.4L349.5 751.2L352.3 747.9L355.3 744.5L358.3 741.1L361.2 737.8L364.0 734.5L366.7 731.4L369.2 728.6L371.5 726.0L373.6 723.5L375.7 721.2L377.6 718.9L379.5 716.7L381.3 714.6L383.2 712.5L385.0 710.4L386.9 708.3L388.8 706.1L390.8 703.9L392.7 701.7L394.7 699.5L396.6 697.3L398.6 695.2L400.6 693.0L402.5 690.9L404.5 688.7L406.4 686.6L408.4 684.5L410.4 682.4L412.3 680.3L414.3 678.2L416.2 676.1L418.2 674.1L420.2 672.0L422.1 670.0L424.1 667.9L426.0 665.9L428.0 663.9L430.0 661.9L431.9 659.9L433.9 657.9L435.8 655.9L437.8 653.9L439.8 651.9L441.7 650.0L443.7 648.1L445.6 646.2L447.6 644.3L449.6 642.5L451.5 640.7L453.5 638.9L455.5 637.1L457.5 635.4L459.4 633.7L461.4 631.9L463.4 630.2L465.3 628.5L467.3 626.7L469.3 624.9L471.2 623.1L473.1 621.4L475.1 619.6L477.0 617.8L478.9 616.0L480.9 614.2L482.9 612.5L484.9 610.7L486.9 609.0L489.1 607.2L491.4 605.3L493.9 603.4L496.4 601.5L498.9 599.6L501.3 597.8L503.5 596.1L505.4 594.6L507.1 593.4L508.4 592.4L510.5 593.5L512.4 597.3L513.9 638.4L515.9 697.3L518.2 756.1L519.2 808.8L521.2 848.0L523.1 863.7L528.0 868.6L533.9 869.6L535.9 874.5L538.8 867.6L542.7 865.7L545.7 873.5L549.6 880.4L551.6 887.3L555.5 891.2L559.4 897.1L562.4 901.0L568.2 897.1L572.2 906.9L575.1 918.6L577.7 928.3L582.8 930.8L586.6 934.7L591.7 930.8L596.8 935.9" fill="none" stroke="#e905f5" stroke-width="3.3" stroke-linejoin="round" stroke-linecap="butt"/>
<path d="M98.8 948.0L104.4 941.2L110.0 934.3L115.5 927.5L121.1 920.7L126.7 913.9L132.3 907.1L137.9 900.4L143.4 893.6L149.0 886.9L154.6 880.2L160.2 873.5L165.8 866.8L171.3 860.2L176.9 853.6L182.5 847.0L188.1 840.4L193.7 833.9L199.2 827.4L204.8 821.0L210.4 814.5L216.0 808.2L221.6 801.8L227.1 795.5L232.7 789.2L238.3 783.0L243.9 776.8L249.5 770.7L255.0 764.6L260.6 758.6L266.2 752.6L271.8 746.7L277.3 740.8L282.9 735.0L288.5 729.2L294.1 723.5L299.7 717.9L305.2 712.3L310.8 706.7L316.4 701.3L322.0 695.9L327.6 690.6L333.1 685.3L338.7 680.1L344.3 675.0L349.9 670.0L355.5 665.0L361.0 660.1L366.6 655.3L372.2 650.6L377.8 646.0L383.4 641.4L388.9 636.9L394.5 632.5L400.1 628.2L405.7 624.0L411.3 619.9L416.8 615.8L422.4 611.9L428.0 608.1L429.1 608.4L430.7 607.6L432.5 606.6L434.3 605.8L435.9 605.1L437.3 604.7L438.6 604.4L439.8 604.2L441.0 604.1L442.0 604.0L443.0 603.9L443.8 604.0L444.6 604.0L445.2 604.1L445.7 604.1L446.4 608.0L446.7 624.7L447.6 658.0L448.6 697.3L450.0 748.2L451.6 799.0L453.1 848.0L454.5 887.3L455.5 902.0L458.4 914.7L462.4 905.0L467.3 885.3L471.2 880.4L476.1 887.3L478.0 880.4L482.9 895.1L486.9 905.9L492.7 916.7L500.6 927.5L509.4 919.6L518.2 924.5L525.1 934.3" fill="none" stroke="#e905f5" stroke-width="3.3" stroke-linejoin="round" stroke-dasharray="12 17" stroke-linecap="round" stroke-dashoffset="12.4"/>
<path d="M98.8 948.0L101.2 948.0L104.3 947.9L107.9 947.9L112.0 947.2L116.4 948.2L121.1 947.6L125.8 947.4L130.7 948.0L135.4 946.8L140.0 947.8L144.7 946.9L149.6 947.0L154.8 946.9L160.1 946.2L165.4 946.7L170.5 944.9L175.5 947.1L180.1 944.4L184.3 945.5L188.0 946.2L191.1 944.0L193.7 943.6L196.0 944.8L197.9 945.6L199.6 945.1L201.1 944.0L202.6 942.8L204.1 942.2L205.8 942.5L207.6 943.5L209.6 944.2L211.5 943.5L213.5 941.9L215.5 940.9L217.4 941.3L219.4 942.4L221.4 942.8L223.4 941.9L225.3 940.3L227.3 939.5L229.3 940.1L231.2 941.2L233.2 941.4L235.1 940.4L237.1 938.9L239.1 938.3L241.0 939.0L243.0 940.0L244.9 940.1L246.9 938.8L248.9 937.3L250.8 936.8L252.8 937.6L254.7 938.4L256.7 938.2L258.7 936.8L260.6 935.3L262.6 934.9L264.5 935.7L266.5 936.5L268.5 936.0L270.4 934.5L272.4 933.1L274.3 932.9L276.3 933.8L278.3 934.4L280.2 933.7L282.2 932.0L284.1 930.6L286.1 930.5L288.0 931.3L289.9 931.7L291.8 930.8L293.7 929.0L295.6 927.5L297.5 927.2L299.5 927.8L301.5 928.0L303.5 926.7L305.7 924.4L308.0 922.7L310.3 922.7L312.8 922.9L315.3 921.0L317.8 918.0L320.4 916.7L322.9 916.8L325.4 916.0L327.7 913.3L330.0 911.2L332.2 909.9L334.2 908.9L336.2 907.7L338.2 905.8L340.1 903.5L342.0 901.5L343.9 900.0L345.8 898.9L347.7 897.5L349.6 895.5L351.6 893.1L353.5 890.9L355.5 889.4L357.4 888.2L359.4 886.6L361.4 884.4L363.3 881.9L365.3 879.7L367.2 878.2L369.2 876.9L371.2 875.1L373.1 872.8L375.1 870.2L377.0 868.0L379.0 866.4L381.0 864.9L382.9 863.1L384.9 860.6L386.8 858.0L388.8 855.8L390.8 854.3L392.7 852.9L394.7 850.9L396.6 848.4L398.6 845.9L400.6 843.9L402.5 842.4L404.5 840.9L406.4 838.8L408.4 836.3L410.4 833.7L412.3 831.7L414.3 830.2L416.2 828.6L418.2 826.4L420.2 823.7L422.1 821.2L424.1 819.3L426.0 817.9L428.0 816.3L430.0 814.1L431.9 811.6L433.9 809.3L435.8 807.6L437.8 806.3L439.8 804.8L441.7 802.6L443.7 800.1L445.6 797.9L447.6 796.3L449.6 795.0L451.5 793.4L453.5 791.1L455.5 788.6L457.5 786.5L459.4 785.0L461.4 783.7L463.4 782.0L465.3 779.6L467.3 777.1L469.3 774.9L471.2 773.4L473.2 771.9L475.1 770.0L477.1 767.4L479.1 764.8L481.0 762.7L483.0 761.2L484.9 759.7L486.9 757.7L488.9 755.1L491.0 752.6L493.1 750.6L495.2 749.2L497.3 747.5L499.4 745.1L501.3 742.6L503.2 740.5L504.9 739.2L506.5 738.2L507.8 737.3L508.9 736.4L509.7 735.6L510.4 734.9L511.1 734.1L511.8 733.3L512.7 732.4L513.7 731.4L514.9 730.3L516.5 729.2L518.4 728.1L520.6 725.9L523.0 723.9L525.6 721.6L528.3 719.3L531.1 716.9L533.9 714.4L536.7 712.0L539.4 709.6L542.0 707.3L544.5 705.1L547.1 702.8L549.6 700.6L552.2 698.4L554.8 696.1L557.3 693.9L559.9 691.7L562.4 689.4L565.0 687.2L567.5 684.9L570.0 682.6L572.6 680.3L575.1 678.0L577.7 675.7L580.2 673.4L582.8 671.0L585.4 668.7L587.9 666.4L590.5 664.2L593.0 661.9L595.5 659.7L598.1 657.4L600.6 655.2L603.2 653.0L605.8 650.9L608.3 648.7L610.9 646.5L613.4 644.4L616.0 642.3L618.5 640.2L621.0 638.1L623.6 636.0L626.1 634.0L628.7 631.9L631.2 629.9L633.8 627.9L636.4 625.9L638.9 624.0L641.5 622.1L644.0 620.3L646.6 618.5L649.3 616.7L652.0 615.0L654.7 613.2L657.4 611.5L660.0 609.9L662.6 608.4L665.1 607.0L667.4 605.7L669.5 604.5L671.5 603.5L673.5 602.5L675.3 601.7L677.1 601.0L678.7 600.4L680.3 599.8L681.7 599.3L682.9 598.9L683.9 598.5L684.8 598.2L687.0 599.5L688.6 607.1L689.9 653.0L691.1 704.0L692.4 757.0L693.7 811.0L696.2 862.0L698.8 879.8L701.3 886.2L706.4 882.4L710.3 876.0L714.1 879.8L719.2 882.4L723.0 892.6L726.8 907.9L730.7 901.5L733.2 913.0L735.8 900.2L738.8 910.4L742.1 925.7L746.0 937.2L749.8 930.8L757.4 929.6L765.1 928.3L770.2 933.4" fill="none" stroke="#3f7d1a" stroke-width="3.3" stroke-linejoin="round" stroke-linecap="butt"/>
<path d="M98.8 948.0L105.0 941.6L111.3 935.2L117.5 928.7L123.8 922.2L130.0 915.8L136.3 909.3L142.5 902.8L148.8 896.3L155.0 889.8L161.3 883.3L167.5 876.8L173.7 870.3L180.0 863.8L186.2 857.3L192.5 850.8L198.7 844.4L205.0 837.9L211.2 831.5L217.5 825.1L223.7 818.7L230.0 812.3L236.2 806.0L242.5 799.7L248.7 793.4L254.9 787.2L261.2 781.0L267.4 774.8L273.7 768.7L279.9 762.6L286.2 756.6L292.4 750.6L298.7 744.6L304.9 738.8L311.2 732.9L317.4 727.2L323.6 721.4L329.9 715.8L336.1 710.2L342.4 704.7L348.6 699.2L354.9 693.9L361.1 688.6L367.4 683.3L373.6 678.2L379.9 673.1L386.1 668.1L392.4 663.2L398.6 658.4L404.8 653.7L411.1 649.1L417.3 644.5L423.6 640.1L429.8 635.8L436.1 631.5L442.3 627.4L448.6 623.4L454.8 619.5L461.1 615.7L467.3 612.0L469.0 611.3L471.4 610.2L474.2 609.0L476.8 607.9L479.0 607.1L480.6 606.7L481.9 606.5L483.0 606.4L484.0 606.5L485.0 606.5L486.0 606.6L486.9 606.7L487.7 606.8L488.3 607.0L488.8 607.1L489.3 611.0L489.8 622.7L491.8 658.0L492.7 697.3L493.7 756.1L494.7 769.6L496.3 828.4L497.6 867.6L499.6 895.1L502.5 908.8L510.0 912.0L516.0 908.0L523.1 901.0L526.1 912.7L530.0 928.4L537.8 936.3L553.5 938.2L563.3 945.1L580.0 943.1" fill="none" stroke="#3f7d1a" stroke-width="3.3" stroke-linejoin="round" stroke-dasharray="12 17" stroke-linecap="round" stroke-dashoffset="15.0"/>
<path d="M98.8 948.0L99.2 947.6L99.7 947.1L100.3 946.5L101.0 945.9L101.8 945.2L102.5 944.5L103.3 943.8L104.2 943.1L104.9 942.5L105.7 942.0L106.4 941.6L107.1 941.3L107.8 941.1L108.6 940.9L109.3 940.8L110.0 940.6L110.8 940.4L111.7 940.1L112.6 939.7L113.5 939.2L114.5 938.6L115.5 938.0L116.5 937.3L117.6 936.6L118.7 935.8L119.8 934.9L121.1 934.7L122.4 933.3L123.8 931.6L125.3 929.8L126.9 928.2L128.7 926.9L130.6 925.9L132.6 924.6L134.6 922.6L136.7 919.9L138.8 917.3L140.9 915.2L142.9 913.8L144.9 912.3L146.9 910.3L148.8 907.5L150.8 904.5L152.7 901.7L154.7 899.7L156.7 897.9L158.6 896.0L160.6 893.5L162.5 890.5L164.5 887.6L166.5 885.4L168.4 883.8L170.4 882.4L172.3 880.7L174.3 878.3L176.3 875.5L178.2 873.0L180.2 871.1L182.1 869.7L184.1 868.3L186.1 866.2L188.0 863.5L190.0 860.7L191.9 858.2L193.9 856.4L195.9 855.0L197.8 853.3L199.8 850.9L201.7 848.1L203.7 845.4L205.7 843.3L207.6 841.8L209.6 840.4L211.5 838.6L213.5 836.1L215.5 833.3L217.4 830.9L219.4 829.0L221.3 827.7L223.3 826.2L225.3 824.1L227.2 821.5L229.2 818.7L231.1 816.4L233.1 814.7L235.1 813.4L237.0 811.7L239.0 809.4L240.9 806.7L242.9 804.2L244.9 802.3L246.8 801.0L248.8 799.8L250.7 798.1L252.7 795.8L254.7 793.2L256.6 791.0L258.6 789.5L260.5 788.4L262.5 787.0L264.4 785.1L266.4 782.7L268.3 780.2L270.2 778.2L272.1 776.9L274.0 775.8L276.0 774.3L278.0 772.1L280.1 769.4L282.2 766.8L284.4 764.9L286.7 763.5L289.1 761.7L291.5 758.9L294.0 755.6L296.4 753.0L298.8 751.3L301.2 749.8L303.5 747.5L305.7 744.7L307.8 742.2L309.8 740.4L311.7 739.2L313.6 738.2L315.4 736.9L317.3 734.9L319.2 732.6L321.1 730.4L323.2 728.8L325.3 727.7L327.6 726.4L329.9 724.2L332.4 721.4L334.9 719.1L337.4 717.3L340.0 715.5L342.5 713.4L345.0 711.0L347.3 708.7L349.6 706.9L351.8 705.4L353.8 703.8L355.8 701.9L357.8 699.9L359.7 697.9L361.6 696.2L363.5 694.8L365.4 693.4L367.3 691.9L369.2 690.1L371.2 688.1L373.1 686.3L375.1 684.7L377.0 683.3L379.0 682.0L381.0 680.4L382.9 678.6L384.9 676.7L386.8 674.9L388.8 673.5L390.8 672.2L392.7 670.8L394.7 669.2L396.6 667.3L398.6 665.4L400.6 663.8L402.5 662.5L404.5 661.2L406.4 659.8L408.4 658.2L410.4 656.4L412.3 654.8L414.3 653.5L416.2 652.4L418.2 651.3L420.2 649.9L422.1 648.3L424.1 646.7L426.0 645.3L428.0 644.1L430.0 643.1L431.9 642.0L433.9 640.6L435.8 639.0L437.8 637.5L439.8 636.3L441.7 635.3L443.7 634.3L445.6 633.2L447.6 631.7L449.6 630.2L451.7 628.7L453.9 627.6L456.1 626.6L458.3 625.5L460.4 623.9L462.3 622.7L464.2 621.6L465.9 620.7L467.3 619.8L468.5 619.1L469.5 618.5L470.4 618.0L471.1 617.6L471.7 617.2L472.2 616.9L472.7 616.7L473.1 616.5L473.5 616.2L474.0 616.0L474.5 615.8L474.9 615.6L475.2 615.4L475.6 615.3L475.8 615.1L476.1 615.1L476.4 615.0L476.6 614.9L476.9 614.9L477.1 614.9L477.3 614.9L477.6 615.0L477.8 615.0L478.0 615.1L478.2 615.2L478.4 615.3L478.5 615.5L478.7 615.6L478.9 615.8L479.0 616.0L479.1 616.2L479.3 616.5L479.4 616.8L479.5 617.1L479.6 617.5L479.7 617.8L479.8 618.1L479.9 618.4L479.9 618.6L480.0 618.8L481.4 638.4L482.9 677.6L484.3 716.9L485.3 756.1L486.9 808.8L488.8 848.0L490.8 887.3L493.7 902.9L498.6 910.8L501.6 901.0L505.5 897.1L508.4 906.9L512.4 916.7L519.2 913.7L524.1 922.5L528.0 931.4L532.0 926.5L535.9 916.7L540.8 938.2L545.7 924.5L549.6 922.5L553.5 934.3L555.5 928.4L560.4 929.4" fill="none" stroke="#e8821c" stroke-width="2.9" stroke-linejoin="round" stroke-linecap="butt"/>
</g>
<path d="M700.3 545.4H711.5999999999999M730.3 545.4H741.5999999999999" stroke="#e8821c" stroke-width="3.4" stroke-linecap="round" fill="none"/>
<text transform="translate(754.4 554.9) scale(0.78 1)" font-size="27.8" text-anchor="start" fill="#0c0c0c" stroke="#0c0c0c" stroke-width="0.6" stroke-linejoin="round">Z1</text>
<text transform="translate(791.6 553.3) scale(0.905 1)" font-size="23.2" text-anchor="start" fill="#0c0c0c" stroke="#0c0c0c" stroke-width="0.7" stroke-linejoin="round"><tspan font-style='italic'>v</tspan>=0.231</text>
<path d="M700.3 572.2H749.0999999999999" stroke="#e905f5" stroke-width="3.4" stroke-linecap="round" fill="none"/>
<text transform="translate(754.4 581.7) scale(0.78 1)" font-size="27.8" text-anchor="start" fill="#0c0c0c" stroke="#0c0c0c" stroke-width="0.6" stroke-linejoin="round">Z2</text>
<text transform="translate(791.6 580.1) scale(0.905 1)" font-size="23.2" text-anchor="start" fill="#0c0c0c" stroke="#0c0c0c" stroke-width="0.7" stroke-linejoin="round"><tspan font-style='italic'>v</tspan>=0.231</text>
<path d="M700.3 599.4H711.5999999999999M730.3 599.4H741.5999999999999" stroke="#e905f5" stroke-width="3.4" stroke-linecap="round" fill="none"/>
<text transform="translate(754.4 608.9) scale(0.78 1)" font-size="27.8" text-anchor="start" fill="#0c0c0c" stroke="#0c0c0c" stroke-width="0.6" stroke-linejoin="round">Z1</text>
<text transform="translate(791.6 607.3) scale(0.905 1)" font-size="23.2" text-anchor="start" fill="#0c0c0c" stroke="#0c0c0c" stroke-width="0.7" stroke-linejoin="round"><tspan font-style='italic'>v</tspan>=1.286</text>
<path d="M700.3 626.2H749.0999999999999" stroke="#3f7d1a" stroke-width="3.4" stroke-linecap="round" fill="none"/>
<text transform="translate(754.4 635.7) scale(0.78 1)" font-size="27.8" text-anchor="start" fill="#0c0c0c" stroke="#0c0c0c" stroke-width="0.6" stroke-linejoin="round">Z2</text>
<text transform="translate(791.6 634.1) scale(0.905 1)" font-size="23.2" text-anchor="start" fill="#0c0c0c" stroke="#0c0c0c" stroke-width="0.7" stroke-linejoin="round"><tspan font-style='italic'>v</tspan>=1.286</text>
<path d="M700.3 653.7H711.5999999999999M730.3 653.7H741.5999999999999" stroke="#3f7d1a" stroke-width="3.4" stroke-linecap="round" fill="none"/>
<text transform="translate(754.4 663.2) scale(0.78 1)" font-size="27.8" text-anchor="start" fill="#0c0c0c" stroke="#0c0c0c" stroke-width="0.6" stroke-linejoin="round">Z1</text>
<text transform="translate(791.6 661.6) scale(0.905 1)" font-size="23.2" text-anchor="start" fill="#0c0c0c" stroke="#0c0c0c" stroke-width="0.7" stroke-linejoin="round"><tspan font-style='italic'>v</tspan>=15.00</text>
<path d="M700.3 680.5H749.0999999999999" stroke="#e8821c" stroke-width="3.4" stroke-linecap="round" fill="none"/>
<text transform="translate(754.4 690.0) scale(0.78 1)" font-size="27.8" text-anchor="start" fill="#0c0c0c" stroke="#0c0c0c" stroke-width="0.6" stroke-linejoin="round">Z2</text>
<text transform="translate(791.6 688.4) scale(0.905 1)" font-size="23.2" text-anchor="start" fill="#0c0c0c" stroke="#0c0c0c" stroke-width="0.7" stroke-linejoin="round"><tspan font-style='italic'>v</tspan>=15.00</text>
</g>
<g class="panel">
<clipPath id="clipd"><rect x="982.8" y="526.8" width="763.7" height="420.30000000000007"/></clipPath>
<path d="M982.8 528.8H1746.5V949.2" fill="none" stroke="#424242" stroke-width="2.15" stroke-linejoin="round"/>
<path d="M982.8 527.8V944.6H1747.5" fill="none" stroke="#424242" stroke-width="2.35"/>
<line x1="973.5999999999999" y1="944.6" x2="982.8" y2="944.6" stroke="#424242" stroke-width="2.2"/>
<text transform="translate(968.9 950.9) scale(0.93 1)" font-size="23.04" text-anchor="end" fill="#0c0c0c" stroke="#0c0c0c" stroke-width="0.75" stroke-linejoin="round">0</text>
<line x1="977.8" y1="914.9" x2="982.8" y2="914.9" stroke="#424242" stroke-width="2.2"/>
<line x1="973.5999999999999" y1="885.2" x2="982.8" y2="885.2" stroke="#424242" stroke-width="2.2"/>
<text transform="translate(968.9 891.5) scale(0.93 1)" font-size="23.04" text-anchor="end" fill="#0c0c0c" stroke="#0c0c0c" stroke-width="0.75" stroke-linejoin="round">2</text>
<line x1="977.8" y1="855.5" x2="982.8" y2="855.5" stroke="#424242" stroke-width="2.2"/>
<line x1="973.5999999999999" y1="825.8" x2="982.8" y2="825.8" stroke="#424242" stroke-width="2.2"/>
<text transform="translate(968.9 832.1) scale(0.93 1)" font-size="23.04" text-anchor="end" fill="#0c0c0c" stroke="#0c0c0c" stroke-width="0.75" stroke-linejoin="round">4</text>
<line x1="977.8" y1="796.1" x2="982.8" y2="796.1" stroke="#424242" stroke-width="2.2"/>
<line x1="973.5999999999999" y1="766.4" x2="982.8" y2="766.4" stroke="#424242" stroke-width="2.2"/>
<text transform="translate(968.9 772.7) scale(0.93 1)" font-size="23.04" text-anchor="end" fill="#0c0c0c" stroke="#0c0c0c" stroke-width="0.75" stroke-linejoin="round">6</text>
<line x1="977.8" y1="736.7" x2="982.8" y2="736.7" stroke="#424242" stroke-width="2.2"/>
<line x1="973.5999999999999" y1="707.0" x2="982.8" y2="707.0" stroke="#424242" stroke-width="2.2"/>
<text transform="translate(968.9 713.3) scale(0.93 1)" font-size="23.04" text-anchor="end" fill="#0c0c0c" stroke="#0c0c0c" stroke-width="0.75" stroke-linejoin="round">8</text>
<line x1="977.8" y1="677.3" x2="982.8" y2="677.3" stroke="#424242" stroke-width="2.2"/>
<line x1="973.5999999999999" y1="647.6" x2="982.8" y2="647.6" stroke="#424242" stroke-width="2.2"/>
<text transform="translate(968.9 653.9) scale(0.93 1)" font-size="23.04" text-anchor="end" fill="#0c0c0c" stroke="#0c0c0c" stroke-width="0.75" stroke-linejoin="round">10</text>
<line x1="977.8" y1="617.9" x2="982.8" y2="617.9" stroke="#424242" stroke-width="2.2"/>
<line x1="973.5999999999999" y1="588.2" x2="982.8" y2="588.2" stroke="#424242" stroke-width="2.2"/>
<text transform="translate(968.9 594.5) scale(0.93 1)" font-size="23.04" text-anchor="end" fill="#0c0c0c" stroke="#0c0c0c" stroke-width="0.75" stroke-linejoin="round">12</text>
<line x1="977.8" y1="558.5" x2="982.8" y2="558.5" stroke="#424242" stroke-width="2.2"/>
<line x1="973.5999999999999" y1="528.8" x2="982.8" y2="528.8" stroke="#424242" stroke-width="2.2"/>
<text transform="translate(968.9 535.1) scale(0.93 1)" font-size="23.04" text-anchor="end" fill="#0c0c0c" stroke="#0c0c0c" stroke-width="0.75" stroke-linejoin="round">14</text>
<line x1="982.8" y1="944.6" x2="982.8" y2="953.0" stroke="#424242" stroke-width="2.2"/>
<text transform="translate(982.8 977.0) scale(1.0 1)" font-size="23.04" text-anchor="middle" fill="#0c0c0c" stroke="#0c0c0c" stroke-width="0.75" stroke-linejoin="round">0.00</text>
<line x1="1059.2" y1="944.6" x2="1059.2" y2="949.2" stroke="#424242" stroke-width="2.2"/>
<line x1="1135.5" y1="944.6" x2="1135.5" y2="953.0" stroke="#424242" stroke-width="2.2"/>
<text transform="translate(1135.5 977.0) scale(1.0 1)" font-size="23.04" text-anchor="middle" fill="#0c0c0c" stroke="#0c0c0c" stroke-width="0.75" stroke-linejoin="round">0.05</text>
<line x1="1211.9" y1="944.6" x2="1211.9" y2="949.2" stroke="#424242" stroke-width="2.2"/>
<line x1="1288.3" y1="944.6" x2="1288.3" y2="953.0" stroke="#424242" stroke-width="2.2"/>
<text transform="translate(1288.3 977.0) scale(1.0 1)" font-size="23.04" text-anchor="middle" fill="#0c0c0c" stroke="#0c0c0c" stroke-width="0.75" stroke-linejoin="round">0.10</text>
<line x1="1364.7" y1="944.6" x2="1364.7" y2="949.2" stroke="#424242" stroke-width="2.2"/>
<line x1="1441.0" y1="944.6" x2="1441.0" y2="953.0" stroke="#424242" stroke-width="2.2"/>
<text transform="translate(1441.0 977.0) scale(1.0 1)" font-size="23.04" text-anchor="middle" fill="#0c0c0c" stroke="#0c0c0c" stroke-width="0.75" stroke-linejoin="round">0.15</text>
<line x1="1517.4" y1="944.6" x2="1517.4" y2="949.2" stroke="#424242" stroke-width="2.2"/>
<line x1="1593.8" y1="944.6" x2="1593.8" y2="953.0" stroke="#424242" stroke-width="2.2"/>
<text transform="translate(1593.8 977.0) scale(1.0 1)" font-size="23.04" text-anchor="middle" fill="#0c0c0c" stroke="#0c0c0c" stroke-width="0.75" stroke-linejoin="round">0.20</text>
<line x1="1670.1" y1="944.6" x2="1670.1" y2="949.2" stroke="#424242" stroke-width="2.2"/>
<line x1="1746.5" y1="944.6" x2="1746.5" y2="953.0" stroke="#424242" stroke-width="2.2"/>
<text transform="translate(1746.5 977.0) scale(1.0 1)" font-size="23.04" text-anchor="middle" fill="#0c0c0c" stroke="#0c0c0c" stroke-width="0.75" stroke-linejoin="round">0.25</text>
<text transform="translate(1361.0 1010.0) scale(0.96 1)" font-size="28.304" text-anchor="middle" fill="#0c0c0c" stroke="#0c0c0c" stroke-width="0.75" stroke-linejoin="round">Strain</text>
<text transform="translate(927.8 754.7) rotate(-90) scale(1.01 1)" font-size="27.0" text-anchor="middle" fill="#0c0c0c" stroke="#0c0c0c" stroke-width="0.75" stroke-linejoin="round">Stess (GPa)</text>
<text transform="translate(904.0 536.0) scale(1.05 1)" font-size="29.0" text-anchor="start" fill="#0c0c0c" stroke="#0c0c0c" stroke-width="0.4" stroke-linejoin="round">(d)</text>
<g clip-path="url(#clipd)">
<path d="M982.9 944.0L987.1 937.7L991.4 931.4L995.6 925.1L999.9 918.6L1004.1 912.2L1008.4 905.7L1012.6 899.1L1016.9 892.5L1021.1 885.9L1025.4 879.3L1029.6 872.6L1033.9 865.9L1038.1 859.2L1042.4 852.4L1046.6 845.7L1050.9 838.9L1055.1 832.1L1059.4 825.3L1063.6 818.5L1067.8 811.7L1072.1 804.9L1076.3 798.1L1080.6 791.3L1084.8 784.5L1089.1 777.7L1093.3 770.9L1097.6 764.2L1101.8 757.5L1106.1 750.8L1110.3 744.1L1114.6 737.5L1118.8 730.8L1123.1 724.3L1127.3 717.7L1131.6 711.2L1135.8 704.8L1140.1 698.4L1144.3 692.0L1148.6 685.7L1152.8 679.4L1157.0 673.3L1161.3 667.1L1165.5 661.1L1169.8 655.1L1174.0 649.1L1178.3 643.3L1182.5 637.5L1186.8 631.8L1191.0 626.2L1195.3 620.6L1199.5 615.2L1203.8 609.8L1208.0 604.6L1212.3 599.4L1216.5 594.3L1220.8 589.3L1225.0 584.5L1229.3 579.7L1233.5 575.1L1234.8 573.7L1236.5 577.0L1238.5 583.5L1238.9 597.3L1239.5 624.7L1240.1 677.6L1241.5 745.0L1243.4 808.8L1245.4 848.0L1247.4 871.6L1249.3 880.4L1262.1 878.4L1267.0 882.0L1271.9 877.5L1275.8 883.3L1279.7 901.0L1282.6 912.7L1283.6 927.5L1293.4 923.5L1303.2 928.4L1309.1 931.4" fill="none" stroke="#e8821c" stroke-width="3.3" stroke-linejoin="round" stroke-dasharray="12 17" stroke-linecap="round" stroke-dashoffset="25.6"/>
<path d="M982.9 944.0L984.5 944.0L986.6 943.9L989.1 943.9L991.9 943.9L995.0 943.8L998.1 943.7L1001.3 942.7L1004.4 944.4L1007.3 943.4L1010.0 942.4L1012.5 943.8L1015.0 943.4L1017.5 941.8L1020.0 942.5L1022.4 943.2L1024.7 941.6L1027.1 940.8L1029.4 942.0L1031.6 941.9L1033.8 940.1L1035.9 939.8L1038.0 940.8L1040.0 940.6L1041.9 938.9L1043.9 938.1L1045.8 938.8L1047.7 939.2L1049.5 937.9L1051.5 936.3L1053.4 936.4L1055.4 937.2L1057.4 936.4L1059.5 934.5L1061.5 934.1L1063.6 934.9L1065.6 934.3L1067.5 932.4L1069.5 931.4L1071.3 931.9L1073.0 932.0L1074.6 930.7L1076.1 929.0L1077.6 927.8L1078.9 927.6L1080.3 927.8L1081.6 927.4L1082.9 926.2L1084.1 924.4L1085.5 922.8L1086.8 922.0L1088.2 922.0L1089.6 921.7L1091.0 920.6L1092.4 918.6L1093.8 916.7L1095.2 915.7L1096.5 915.4L1097.9 915.1L1099.2 913.9L1100.5 911.8L1101.8 910.5L1103.0 909.3L1104.2 908.0L1105.4 906.6L1106.5 905.3L1107.7 903.9L1108.8 902.5L1110.0 901.0L1111.1 899.5L1112.3 898.0L1113.5 896.4L1114.6 894.9L1115.8 893.3L1116.9 891.6L1118.0 890.0L1119.2 888.2L1120.3 886.5L1121.5 884.7L1122.7 882.9L1124.0 881.0L1125.3 879.1L1126.6 877.1L1128.0 875.0L1129.3 873.0L1130.7 870.8L1132.1 868.7L1133.5 866.5L1134.9 864.4L1136.3 862.2L1137.7 860.0L1139.1 857.8L1140.5 855.6L1141.8 853.3L1143.2 851.1L1144.6 848.8L1146.0 846.5L1147.4 844.2L1148.7 842.0L1150.1 839.7L1151.5 837.5L1152.9 835.3L1154.2 833.1L1155.6 830.9L1157.0 828.7L1158.4 826.5L1159.7 824.3L1161.1 822.1L1162.5 820.0L1163.8 817.8L1165.2 815.7L1166.6 813.6L1167.9 811.5L1169.3 809.4L1170.7 807.4L1172.1 805.3L1173.4 803.3L1174.8 801.2L1176.2 799.2L1177.5 797.2L1178.9 795.1L1180.2 793.1L1181.5 791.2L1182.7 789.3L1184.0 787.4L1185.2 785.5L1186.5 783.6L1187.9 781.5L1189.3 779.4L1190.9 777.0L1192.6 774.5L1194.5 771.7L1196.6 768.8L1198.8 765.6L1201.1 762.3L1203.4 759.0L1205.8 755.6L1208.2 752.2L1210.6 748.8L1212.8 745.5L1215.0 742.4L1217.1 739.4L1219.1 736.4L1221.1 733.4L1223.0 730.5L1225.0 727.6L1226.9 724.8L1228.8 721.9L1230.7 719.1L1232.7 716.2L1234.6 713.4L1236.6 710.6L1238.5 707.7L1240.5 704.9L1242.4 702.1L1244.4 699.3L1246.4 696.5L1248.3 693.8L1250.3 691.0L1252.2 688.2L1254.2 685.5L1256.2 682.8L1258.1 680.0L1260.1 677.3L1262.0 674.6L1264.0 671.9L1266.0 669.2L1267.9 666.5L1269.9 663.8L1271.8 661.2L1273.8 658.5L1275.8 655.9L1277.7 653.2L1279.7 650.6L1281.6 648.0L1283.6 645.4L1285.6 642.8L1287.5 640.2L1289.5 637.6L1291.4 635.1L1293.4 632.5L1295.4 630.0L1297.3 627.4L1299.3 624.9L1301.2 622.4L1303.2 619.9L1305.2 617.4L1307.1 614.9L1309.1 612.4L1311.0 610.0L1313.0 607.6L1314.9 605.2L1316.9 602.9L1318.8 600.5L1320.7 598.2L1322.6 595.9L1324.5 593.6L1326.5 591.4L1328.5 589.1L1330.5 586.8L1332.6 584.5L1334.8 582.1L1337.3 579.5L1339.9 576.9L1342.5 574.2L1345.1 571.6L1347.6 569.1L1350.0 566.8L1352.1 564.7L1353.8 563.0L1355.2 561.6L1356.5 563.5L1357.2 569.8L1358.1 618.8L1359.7 677.6L1361.7 756.1L1362.5 808.8L1364.4 857.8L1366.4 891.2L1368.3 904.9L1370.9 909.8L1373.8 901.0L1376.8 896.1L1379.7 912.7L1382.6 923.5L1385.6 920.6L1388.5 912.7L1391.5 919.6L1394.4 916.7L1397.3 916.7L1400.3 932.4L1404.2 917.6L1407.2 926.5L1410.1 933.3L1413.0 930.4L1416.0 935.3L1417.9 931.4L1420.9 939.2L1425.8 944.1" fill="none" stroke="#e905f5" stroke-width="3.3" stroke-linejoin="round" stroke-linecap="butt"/>
<path d="M982.9 944.0L987.4 937.0L991.9 930.1L996.4 923.2L1000.9 916.2L1005.4 909.3L1009.9 902.5L1014.4 895.6L1018.9 888.7L1023.4 881.9L1027.9 875.1L1032.4 868.3L1036.9 861.5L1041.4 854.7L1045.9 848.0L1050.4 841.3L1054.9 834.6L1059.4 828.0L1063.9 821.4L1068.4 814.8L1072.9 808.2L1077.4 801.7L1081.9 795.2L1086.4 788.8L1090.9 782.4L1095.4 776.0L1099.9 769.7L1104.4 763.4L1108.9 757.1L1113.4 750.9L1117.8 744.7L1122.3 738.6L1126.8 732.5L1131.3 726.5L1135.8 720.5L1140.3 714.5L1144.8 708.6L1149.3 702.8L1153.8 697.0L1158.3 691.3L1162.8 685.6L1167.3 680.0L1171.8 674.5L1176.3 669.0L1180.8 663.5L1185.3 658.1L1189.8 652.8L1194.3 647.6L1198.8 642.4L1203.3 637.3L1207.8 632.2L1212.3 627.2L1216.8 622.3L1221.3 617.4L1225.8 612.7L1230.3 608.0L1234.8 603.3L1239.3 598.8L1243.8 594.3L1248.3 589.9L1250.0 587.9L1252.5 585.8L1255.3 583.4L1258.0 581.2L1260.1 579.6L1261.6 578.7L1262.7 578.1L1263.5 577.8L1264.3 577.7L1265.0 577.5L1265.8 577.4L1266.4 577.4L1267.0 577.5L1267.5 577.6L1267.9 577.6L1268.8 581.0L1269.9 589.4L1270.5 618.8L1271.3 658.0L1271.9 716.9L1272.5 756.1L1273.2 808.8L1274.2 857.8L1275.8 883.3L1277.7 902.9L1282.6 897.1L1285.6 890.2L1290.5 891.2L1294.4 906.9L1299.3 926.5L1304.2 938.2L1313.0 944.1L1322.8 945.1L1330.7 944.1L1336.6 934.3L1341.5 926.5" fill="none" stroke="#e905f5" stroke-width="3.3" stroke-linejoin="round" stroke-dasharray="12 17" stroke-linecap="round" stroke-dashoffset="8.8"/>
<path d="M982.9 944.0L985.7 944.0L989.4 944.0L993.7 944.0L998.5 943.9L1003.8 943.5L1009.2 944.2L1014.7 943.7L1020.1 943.8L1025.2 943.9L1030.0 943.2L1034.6 944.0L1039.2 943.0L1043.8 943.1L1048.4 943.3L1053.0 942.3L1057.4 942.9L1061.7 942.6L1065.7 940.9L1069.5 942.8L1073.0 942.4L1076.1 940.4L1078.8 940.6L1081.1 941.9L1083.3 942.3L1085.3 941.3L1087.2 939.8L1089.3 939.1L1091.4 939.8L1093.9 941.0L1096.6 940.6L1099.7 938.4L1103.2 938.5L1106.8 940.0L1110.6 937.9L1114.5 937.0L1118.3 938.8L1122.1 937.2L1125.7 935.7L1129.0 937.2L1131.9 937.5L1134.5 935.7L1136.8 934.6L1138.9 935.1L1140.9 936.2L1142.7 936.8L1144.4 936.3L1146.1 935.2L1147.8 934.1L1149.6 933.7L1151.5 934.5L1153.5 935.5L1155.4 935.7L1157.4 934.6L1159.3 933.1L1161.3 932.4L1163.3 933.0L1165.2 934.0L1167.2 934.2L1169.1 933.2L1171.1 931.6L1173.1 930.7L1175.0 931.0L1176.9 931.9L1178.8 932.2L1180.8 931.3L1182.7 929.7L1184.7 928.4L1186.7 928.5L1188.7 929.3L1190.7 929.7L1192.8 928.7L1195.0 926.7L1197.3 925.6L1199.6 926.1L1201.9 926.9L1204.2 926.3L1206.4 924.4L1208.5 922.8L1210.5 922.6L1212.3 923.2L1213.9 923.6L1215.4 923.2L1216.8 922.2L1218.1 920.8L1219.3 919.6L1220.4 918.6L1221.5 918.1L1222.6 917.9L1223.7 917.9L1224.8 918.0L1225.9 917.9L1226.9 917.5L1227.8 916.8L1228.7 915.8L1229.6 914.6L1230.5 913.3L1231.4 912.0L1232.4 910.8L1233.4 909.8L1234.6 909.1L1235.9 908.7L1237.2 908.3L1238.6 907.4L1240.1 905.1L1241.6 903.2L1243.2 901.3L1244.7 899.5L1246.3 897.9L1247.8 896.7L1249.3 895.4L1250.8 894.0L1252.3 892.1L1253.9 890.0L1255.4 887.9L1257.0 885.9L1258.5 884.2L1260.0 882.8L1261.4 881.5L1262.7 880.0L1264.0 878.4L1265.1 876.9L1266.1 875.4L1267.0 874.1L1267.8 873.0L1268.6 871.9L1269.4 870.9L1270.3 869.8L1271.3 868.7L1272.4 867.6L1273.8 866.1L1275.4 864.2L1277.1 861.7L1279.0 858.8L1280.9 856.0L1283.0 853.6L1285.1 851.4L1287.2 848.8L1289.3 845.7L1291.4 842.5L1293.4 839.7L1295.4 837.4L1297.3 835.3L1299.3 832.8L1301.2 829.8L1303.2 826.6L1305.2 823.7L1307.1 821.3L1309.1 819.2L1311.0 816.8L1313.0 814.0L1315.0 810.9L1316.9 808.2L1318.9 805.9L1320.8 803.9L1322.8 801.8L1324.8 799.1L1326.7 796.2L1328.7 793.5L1330.6 791.3L1332.6 789.4L1334.6 787.3L1336.5 784.8L1338.5 782.0L1340.4 779.3L1342.4 777.1L1344.4 775.2L1346.3 773.3L1348.3 770.9L1350.2 768.0L1352.2 765.2L1354.2 762.9L1356.1 760.9L1358.1 758.8L1360.1 756.3L1362.0 753.4L1364.0 750.5L1366.0 748.0L1368.0 745.9L1369.9 743.9L1371.9 741.4L1373.9 738.6L1375.8 735.7L1377.8 733.3L1379.7 731.2L1381.7 729.3L1383.7 726.9L1385.6 724.2L1387.6 721.3L1389.5 718.8L1391.5 716.8L1393.5 714.9L1395.4 712.6L1397.4 709.9L1399.3 707.0L1401.3 705.0L1403.3 702.6L1405.2 700.3L1407.2 697.9L1409.1 695.6L1411.1 693.3L1413.1 691.0L1415.0 688.7L1417.0 686.4L1418.9 684.2L1420.9 681.9L1422.9 679.7L1424.8 677.4L1426.8 675.2L1428.7 673.0L1430.7 670.8L1432.6 668.6L1434.5 666.5L1436.4 664.3L1438.3 662.2L1440.2 660.1L1442.1 658.0L1444.0 655.9L1446.1 653.7L1448.1 651.5L1450.3 649.2L1452.6 646.9L1454.9 644.5L1457.3 642.1L1459.8 639.7L1462.3 637.3L1464.8 634.8L1467.4 632.4L1469.9 629.9L1472.5 627.4L1475.0 624.9L1477.6 622.3L1480.2 619.7L1482.9 617.0L1485.6 614.2L1488.3 611.5L1491.0 608.8L1493.6 606.2L1496.0 603.8L1498.4 601.5L1500.5 599.4L1502.5 597.5L1504.3 595.8L1506.0 594.2L1507.6 592.7L1509.2 591.3L1510.6 590.0L1512.0 588.8L1513.3 587.7L1514.6 586.5L1515.8 585.4L1517.0 584.3L1518.1 583.3L1519.1 582.3L1520.1 581.4L1521.1 580.5L1521.9 579.7L1522.8 579.0L1523.5 578.3L1524.3 577.6L1525.0 577.0L1525.7 576.5L1526.3 576.0L1526.9 575.6L1527.5 575.2L1528.0 574.9L1528.4 574.7L1528.9 574.4L1529.2 574.2L1529.5 574.1L1529.8 573.9L1531.5 576.0L1532.3 581.6L1533.6 627.5L1534.9 704.0L1536.2 757.0L1537.5 836.5L1539.2 913.0L1540.5 934.7L1543.1 928.3L1546.4 913.0L1550.2 913.0L1554.0 905.3L1556.6 913.0L1559.1 923.2L1562.9 918.1L1566.8 928.3L1570.6 935.9L1573.1 933.4L1577.0 942.3L1584.6 941.0L1592.3 943.6L1610.1 943.6" fill="none" stroke="#3f7d1a" stroke-width="3.3" stroke-linejoin="round" stroke-linecap="butt"/>
<path d="M982.9 944.0L988.2 937.8L993.4 931.5L998.7 925.1L1004.0 918.7L1009.2 912.2L1014.5 905.7L1019.7 899.2L1025.0 892.6L1030.3 886.0L1035.5 879.3L1040.8 872.6L1046.1 865.9L1051.3 859.1L1056.6 852.4L1061.8 845.6L1067.1 838.8L1072.4 832.0L1077.6 825.2L1082.9 818.4L1088.2 811.6L1093.4 804.9L1098.7 798.1L1103.9 791.3L1109.2 784.6L1114.5 777.9L1119.7 771.2L1125.0 764.5L1130.3 757.9L1135.5 751.3L1140.8 744.8L1146.0 738.3L1151.3 731.8L1156.6 725.4L1161.8 719.1L1167.1 712.8L1172.4 706.6L1177.6 700.4L1182.9 694.4L1188.1 688.4L1193.4 682.4L1198.7 676.6L1203.9 670.8L1209.2 665.2L1214.5 659.6L1219.7 654.1L1225.0 648.8L1230.2 643.5L1235.5 638.3L1240.8 633.3L1246.0 628.4L1251.3 623.5L1256.6 618.9L1261.8 614.3L1267.1 609.9L1272.3 605.6L1277.6 601.4L1282.9 597.4L1288.1 593.5L1293.4 589.8L1294.8 588.3L1296.9 586.7L1299.2 584.9L1301.4 583.3L1303.2 582.0L1304.5 581.2L1305.6 580.6L1306.4 580.3L1307.2 580.0L1308.0 579.8L1308.8 579.6L1309.5 579.6L1310.2 579.6L1310.7 579.6L1311.1 579.6L1312.2 581.0L1313.0 583.5L1314.0 599.2L1315.0 638.4L1316.0 697.3L1317.0 756.1L1318.9 808.8L1320.9 848.0L1322.5 877.5L1324.8 895.1L1330.7 904.9L1338.5 915.7L1348.3 913.7L1356.2 910.8L1360.1 916.7L1364.0 932.4L1373.8 932.4L1381.7 938.2L1387.5 944.1" fill="none" stroke="#3f7d1a" stroke-width="3.3" stroke-linejoin="round" stroke-dasharray="12 17" stroke-linecap="round" stroke-dashoffset="11.2"/>
<path d="M982.9 944.0L983.9 943.4L985.3 942.7L986.8 941.9L988.6 941.0L990.5 939.9L992.5 938.8L994.5 937.6L996.6 936.2L998.6 934.8L1000.5 933.1L1002.4 932.2L1004.4 930.7L1006.4 928.2L1008.5 925.3L1010.5 922.6L1012.6 920.7L1014.6 919.3L1016.5 917.7L1018.4 915.5L1020.1 912.9L1021.7 910.3L1023.2 908.0L1024.6 906.2L1026.0 904.7L1027.3 903.5L1028.6 902.1L1029.9 900.6L1031.2 898.7L1032.5 896.4L1033.8 894.0L1035.2 891.5L1036.5 889.3L1037.8 887.5L1039.2 885.9L1040.5 884.5L1041.9 883.0L1043.2 881.2L1044.6 879.1L1046.0 876.6L1047.5 874.1L1049.0 871.8L1050.5 869.9L1052.1 868.5L1053.6 867.4L1055.2 866.1L1056.8 864.3L1058.4 862.0L1060.0 859.5L1061.6 857.1L1063.2 855.0L1064.8 853.4L1066.4 852.0L1068.0 850.5L1069.6 848.6L1071.2 846.1L1072.8 843.3L1074.3 840.6L1075.9 838.4L1077.4 836.6L1078.9 835.3L1080.4 834.0L1081.8 832.4L1083.2 830.5L1084.6 828.3L1086.0 825.9L1087.4 823.7L1088.7 821.8L1090.0 820.2L1091.3 819.0L1092.6 817.9L1093.8 816.7L1095.0 815.3L1096.2 813.7L1097.3 811.9L1098.4 809.9L1099.5 807.9L1100.6 806.1L1101.8 804.4L1103.1 803.0L1104.4 801.7L1105.8 800.6L1107.4 799.2L1108.9 797.3L1110.6 794.9L1112.2 792.3L1113.9 789.8L1115.6 787.9L1117.1 786.5L1118.7 785.3L1120.1 784.1L1121.4 782.6L1122.6 781.0L1123.7 779.3L1124.7 777.6L1125.8 775.9L1126.8 774.3L1127.9 772.8L1129.1 771.5L1130.4 770.3L1131.9 769.0L1133.6 767.2L1135.4 764.7L1137.5 761.2L1139.6 757.6L1141.7 754.7L1143.9 752.5L1146.0 750.5L1148.0 747.9L1149.8 744.9L1151.5 742.0L1153.0 739.6L1154.3 737.9L1155.6 736.6L1156.7 735.7L1157.8 734.8L1158.9 733.9L1159.9 732.9L1161.0 731.6L1162.1 730.0L1163.2 728.2L1164.4 726.3L1165.6 724.6L1166.7 723.0L1167.9 721.8L1169.1 720.8L1170.3 719.9L1171.5 719.0L1172.6 718.0L1173.8 716.6L1175.0 715.0L1176.2 713.2L1177.3 711.4L1178.4 709.8L1179.5 708.4L1180.7 707.2L1181.8 706.2L1183.0 705.4L1184.2 704.5L1185.5 703.5L1186.8 702.1L1188.2 700.2L1189.8 697.9L1191.3 695.6L1193.0 693.7L1194.7 692.3L1196.3 691.2L1198.0 690.1L1199.6 688.5L1201.1 686.6L1202.5 684.5L1203.8 682.6L1205.0 681.0L1206.0 679.7L1207.1 678.7L1208.1 677.9L1209.1 677.2L1210.2 676.5L1211.4 675.5L1212.7 674.2L1214.2 672.3L1215.9 670.1L1217.7 668.0L1219.7 666.1L1221.8 664.5L1223.9 662.8L1226.1 660.8L1228.3 658.4L1230.4 656.0L1232.6 653.9L1234.6 652.1L1236.6 650.4L1238.6 648.5L1240.5 646.2L1242.5 643.8L1244.4 641.6L1246.4 639.6L1248.3 637.8L1250.3 636.0L1252.2 633.9L1254.2 631.7L1256.2 629.3L1258.1 627.2L1260.1 625.4L1262.0 623.8L1264.0 622.0L1266.0 619.9L1267.9 617.6L1269.9 615.5L1271.8 613.6L1273.8 612.0L1275.8 610.4L1277.7 608.6L1279.7 606.6L1281.6 604.5L1283.6 602.6L1285.6 600.9L1287.5 599.5L1289.5 598.0L1291.4 596.3L1293.4 594.3L1295.4 592.3L1297.5 590.5L1299.6 589.1L1301.8 587.4L1303.9 585.7L1306.0 584.1L1308.0 582.5L1309.8 581.1L1311.5 579.8L1313.0 578.6L1314.3 577.6L1315.4 576.8L1316.4 576.1L1317.2 575.5L1318.0 575.0L1318.7 574.5L1319.3 574.1L1319.9 573.7L1320.4 573.4L1321.0 573.0L1321.6 572.6L1322.1 572.3L1322.5 572.0L1322.9 571.7L1323.3 571.4L1323.6 571.2L1323.9 571.1L1324.2 570.9L1324.5 570.8L1324.8 570.8L1325.1 570.8L1325.3 570.9L1325.6 571.0L1325.8 571.1L1326.0 571.3L1326.2 571.5L1326.3 571.8L1326.5 572.0L1326.7 572.3L1326.8 572.5L1326.9 572.8L1327.1 573.1L1327.2 573.5L1327.3 573.8L1327.4 574.2L1327.5 574.6L1327.5 574.9L1327.6 575.2L1327.7 575.5L1327.7 575.7L1328.7 599.2L1330.1 658.0L1331.3 716.9L1332.3 756.1L1333.6 799.0L1335.6 848.0L1337.5 877.5L1340.5 893.1L1344.4 902.0L1349.3 899.0L1353.2 899.0L1356.2 906.9L1361.1 912.7L1365.0 911.8L1369.9 920.6L1374.8 916.7L1377.7 926.5L1381.7 930.4L1387.5 939.2L1393.4 937.3L1399.3 939.2L1406.2 943.1" fill="none" stroke="#e8821c" stroke-width="2.9" stroke-linejoin="round" stroke-linecap="butt"/>
</g>
<path d="M1569.5 549.7H1580.8M1599.5 549.7H1610.8" stroke="#e8821c" stroke-width="3.4" stroke-linecap="round" fill="none"/>
<text transform="translate(1621.9 559.2) scale(0.78 1)" font-size="27.8" text-anchor="start" fill="#0c0c0c" stroke="#0c0c0c" stroke-width="0.6" stroke-linejoin="round">Z1</text>
<text transform="translate(1657.3 557.6) scale(0.886 1)" font-size="23.2" text-anchor="start" fill="#0c0c0c" stroke="#0c0c0c" stroke-width="0.7" stroke-linejoin="round"><tspan font-style='italic'>v</tspan>=0.231</text>
<path d="M1569.5 576.5H1618.3" stroke="#e905f5" stroke-width="3.4" stroke-linecap="round" fill="none"/>
<text transform="translate(1621.9 586.0) scale(0.78 1)" font-size="27.8" text-anchor="start" fill="#0c0c0c" stroke="#0c0c0c" stroke-width="0.6" stroke-linejoin="round">Z2</text>
<text transform="translate(1657.3 584.4) scale(0.886 1)" font-size="23.2" text-anchor="start" fill="#0c0c0c" stroke="#0c0c0c" stroke-width="0.7" stroke-linejoin="round"><tspan font-style='italic'>v</tspan>=0.231</text>
<path d="M1569.5 603.3H1580.8M1599.5 603.3H1610.8" stroke="#e905f5" stroke-width="3.4" stroke-linecap="round" fill="none"/>
<text transform="translate(1621.9 612.8) scale(0.78 1)" font-size="27.8" text-anchor="start" fill="#0c0c0c" stroke="#0c0c0c" stroke-width="0.6" stroke-linejoin="round">Z1</text>
<text transform="translate(1657.3 611.2) scale(0.886 1)" font-size="23.2" text-anchor="start" fill="#0c0c0c" stroke="#0c0c0c" stroke-width="0.7" stroke-linejoin="round"><tspan font-style='italic'>v</tspan>=1.286</text>
<path d="M1569.5 630H1618.3" stroke="#3f7d1a" stroke-width="3.4" stroke-linecap="round" fill="none"/>
<text transform="translate(1621.9 639.5) scale(0.78 1)" font-size="27.8" text-anchor="start" fill="#0c0c0c" stroke="#0c0c0c" stroke-width="0.6" stroke-linejoin="round">Z2</text>
<text transform="translate(1657.3 637.9) scale(0.886 1)" font-size="23.2" text-anchor="start" fill="#0c0c0c" stroke="#0c0c0c" stroke-width="0.7" stroke-linejoin="round"><tspan font-style='italic'>v</tspan>=1.286</text>
<path d="M1569.5 656H1580.8M1599.5 656H1610.8" stroke="#3f7d1a" stroke-width="3.4" stroke-linecap="round" fill="none"/>
<text transform="translate(1621.9 665.5) scale(0.78 1)" font-size="27.8" text-anchor="start" fill="#0c0c0c" stroke="#0c0c0c" stroke-width="0.6" stroke-linejoin="round">Z1</text>
<text transform="translate(1657.3 663.9) scale(0.886 1)" font-size="23.2" text-anchor="start" fill="#0c0c0c" stroke="#0c0c0c" stroke-width="0.7" stroke-linejoin="round"><tspan font-style='italic'>v</tspan>=15.00</text>
<path d="M1569.5 682.3H1618.3" stroke="#e8821c" stroke-width="3.4" stroke-linecap="round" fill="none"/>
<text transform="translate(1621.9 691.8) scale(0.78 1)" font-size="27.8" text-anchor="start" fill="#0c0c0c" stroke="#0c0c0c" stroke-width="0.6" stroke-linejoin="round">Z2</text>
<text transform="translate(1657.3 690.2) scale(0.886 1)" font-size="23.2" text-anchor="start" fill="#0c0c0c" stroke="#0c0c0c" stroke-width="0.7" stroke-linejoin="round"><tspan font-style='italic'>v</tspan>=15.00</text>
</g>
</g>
</svg>
</body>
</html>
